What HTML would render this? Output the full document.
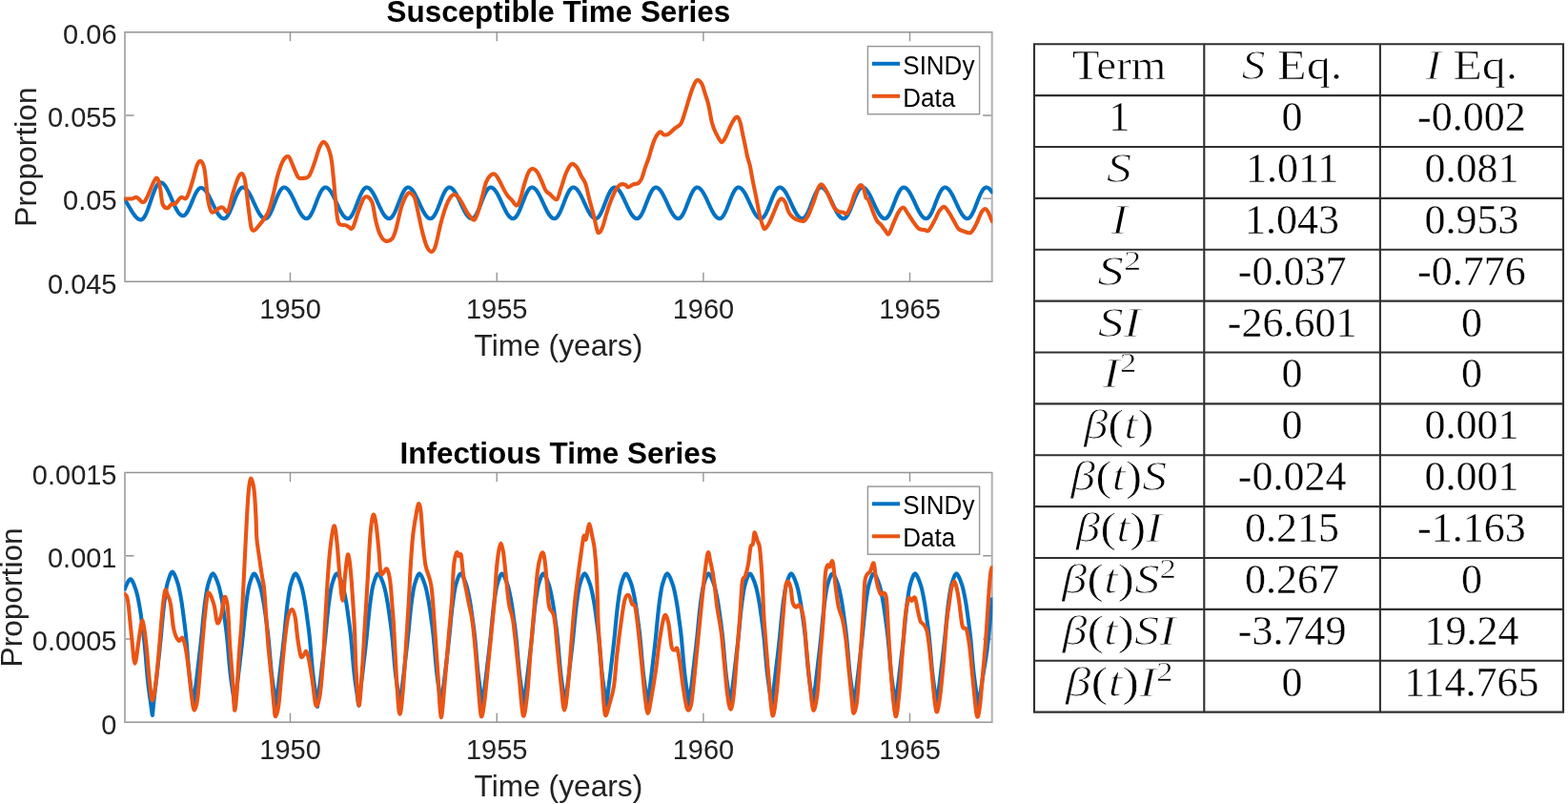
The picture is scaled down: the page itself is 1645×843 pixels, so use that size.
<!DOCTYPE html>
<html><head><meta charset="utf-8"><title>SINDy SIR fit</title>
<style>
html,body{margin:0;padding:0;background:#fff;}
body{width:1645px;height:843px;overflow:hidden;position:relative;}
svg.fig{position:absolute;left:0;top:0;}
table.coef{position:absolute;left:1085.00px;top:46.30px;border-collapse:collapse;border-spacing:0;
  font-family:"Liberation Serif","Times New Roman",serif;font-size:44px;color:#000;table-layout:fixed;width:555.00px;}
table.coef td{border:0;padding:0;text-align:center;vertical-align:top;height:53.870px;line-height:44px;white-space:nowrap;overflow:visible;}
table.coef td span.c{display:block;position:relative;top:1.0px;}
table.coef td span.c{-webkit-text-stroke:0.35px #fff;}
table.coef td span.m{-webkit-text-stroke:0.7px #fff;}
table.coef i{-webkit-text-stroke:1.05px #fff;}
table.coef sup{font-size:29px;line-height:0;vertical-align:0;position:relative;top:-16px;}
table.coef i{font-style:italic;}
table.coef span.m{display:inline-block;}
</style></head>
<body>
<svg class="fig" width="1645" height="843" viewBox="0 0 1645 843">
<rect width="1645" height="843" fill="#fff"/>
<clipPath id="c33"><rect x="130.4" y="33.8" width="910.9" height="261.5"/></clipPath>
<path d="M304.5,295.3V285.8 M304.5,33.8V43.3 M521.2,295.3V285.8 M521.2,33.8V43.3 M737.9,295.3V285.8 M737.9,33.8V43.3 M954.5,295.3V285.8 M954.5,33.8V43.3 M131.0,208.1H140.5 M1040.7,208.1H1031.2 M131.0,121.0H140.5 M1040.7,121.0H1031.2" stroke="#959595" stroke-width="1.4" fill="none"/>
<path d="M130.2,33.8H1041.5" stroke="#959595" stroke-width="1.5"/>
<path d="M130.2,295.3H1041.5" stroke="#959595" stroke-width="1.5"/>
<path d="M131.0,33.8V295.3" stroke="#b0b0b0" stroke-width="2"/>
<path d="M1040.7,33.8V295.3" stroke="#b0b0b0" stroke-width="2"/>
<g clip-path="url(#c33)" fill="none" stroke-width="4.1" stroke-linejoin="round" stroke-linecap="round">
<path d="M131.0,209.7 131.5,210.4 132.0,211.1 132.5,211.9 133.0,212.7 133.5,213.5 134.0,214.3 134.5,215.1 135.0,215.9 135.5,216.8 136.0,217.6 136.5,218.5 137.0,219.3 137.5,220.2 138.0,221.0 138.5,221.8 139.0,222.6 139.5,223.4 140.0,224.1 140.5,224.8 141.0,225.5 141.5,226.2 142.0,226.8 142.5,227.3 143.0,227.9 143.5,228.4 144.0,228.8 144.5,229.2 145.0,229.5 145.5,229.8 146.0,230.0 146.5,230.2 147.0,230.3 147.5,230.4 148.0,230.4 148.5,230.3 149.0,230.1 149.5,229.7 150.0,229.3 150.5,228.8 151.0,228.1 151.5,227.4 152.0,226.5 152.5,225.6 153.0,224.6 153.5,223.5 154.0,222.3 154.5,221.1 155.0,219.8 155.5,218.4 156.0,217.0 156.5,215.6 157.0,214.1 157.5,212.6 158.0,211.1 158.5,209.7 159.0,208.2 159.5,206.7 160.0,205.3 160.5,203.9 161.0,202.5 161.5,201.2 162.0,199.9 162.5,198.7 163.0,197.6 163.5,196.5 164.0,195.5 164.5,194.7 165.0,193.9 165.5,193.2 166.0,192.6 166.5,192.1 167.0,191.7 167.5,191.5 168.0,191.3 168.5,191.3 169.0,191.4 169.5,191.5 170.0,191.7 170.5,192.0 171.0,192.3 171.5,192.8 172.0,193.3 172.5,193.9 173.0,194.5 173.5,195.2 174.0,196.0 174.5,196.8 175.0,197.7 175.5,198.6 176.0,199.6 176.5,200.6 177.0,201.6 177.5,202.7 178.0,203.8 178.5,204.9 179.0,206.1 179.5,207.2 180.0,208.4 180.5,209.6 181.0,210.7 181.5,211.9 182.0,213.0 182.5,214.1 183.0,215.2 183.5,216.3 184.0,217.3 184.5,218.3 185.0,219.3 185.5,220.2 186.0,221.0 186.5,221.8 187.0,222.6 187.5,223.3 188.0,223.9 188.5,224.4 189.0,224.9 189.5,225.3 190.0,225.6 190.5,225.9 191.0,226.1 191.5,226.2 192.0,226.2 192.5,226.1 193.0,226.0 193.5,225.7 194.0,225.3 194.5,224.9 195.0,224.3 195.5,223.7 196.0,223.0 196.5,222.2 197.0,221.3 197.5,220.4 198.0,219.4 198.5,218.3 199.0,217.2 199.5,216.1 200.0,214.9 200.5,213.8 201.0,212.6 201.5,211.4 202.0,210.2 202.5,209.0 203.0,207.8 203.5,206.6 204.0,205.5 204.5,204.4 205.0,203.4 205.5,202.4 206.0,201.5 206.5,200.7 207.0,199.9 207.5,199.2 208.0,198.6 208.5,198.1 209.0,197.7 209.5,197.4 210.0,197.2 210.5,197.0 211.0,197.0 211.5,197.0 212.0,197.2 212.5,197.4 213.0,197.6 213.5,197.9 214.0,198.3 214.5,198.7 215.0,199.3 215.5,199.8 216.0,200.4 216.5,201.1 217.0,201.8 217.5,202.6 218.0,203.4 218.5,204.3 219.0,205.2 219.5,206.1 220.0,207.1 220.5,208.1 221.0,209.1 221.5,210.1 222.0,211.2 222.5,212.2 223.0,213.3 223.5,214.3 224.0,215.3 224.5,216.4 225.0,217.4 225.5,218.4 226.0,219.4 226.5,220.3 227.0,221.3 227.5,222.2 228.0,223.0 228.5,223.8 229.0,224.6 229.5,225.3 230.0,225.9 230.5,226.5 231.0,227.1 231.5,227.6 232.0,228.0 232.5,228.4 233.0,228.7 233.5,228.9 234.0,229.1 234.5,229.2 235.0,229.2 235.5,229.1 236.0,229.0 236.5,228.7 237.0,228.3 237.5,227.9 238.0,227.3 238.5,226.7 239.0,225.9 239.5,225.1 240.0,224.2 240.5,223.3 241.0,222.2 241.5,221.1 242.0,220.0 242.5,218.8 243.0,217.6 243.5,216.3 244.0,215.0 244.5,213.7 245.0,212.4 245.5,211.1 246.0,209.8 246.5,208.6 247.0,207.3 247.5,206.1 248.0,205.0 248.5,203.9 249.0,202.8 249.5,201.8 250.0,200.9 250.5,200.0 251.0,199.3 251.5,198.6 252.0,198.0 252.5,197.5 253.0,197.1 253.5,196.8 254.0,196.6 254.5,196.5 255.0,196.5 255.5,196.6 256.0,196.7 256.5,197.0 257.0,197.3 257.5,197.6 258.0,198.0 258.5,198.5 259.0,199.1 259.5,199.7 260.0,200.4 260.5,201.1 261.0,201.9 261.5,202.7 262.0,203.6 262.5,204.5 263.0,205.5 263.5,206.5 264.0,207.5 264.5,208.5 265.0,209.6 265.5,210.7 266.0,211.8 266.5,212.8 267.0,213.9 267.5,215.0 268.0,216.1 268.5,217.1 269.0,218.2 269.5,219.2 270.0,220.2 270.5,221.2 271.0,222.1 271.5,223.0 272.0,223.8 272.5,224.6 273.0,225.3 273.5,226.0 274.0,226.6 274.5,227.2 275.0,227.7 275.5,228.1 276.0,228.4 276.5,228.7 277.0,229.0 277.5,229.1 278.0,229.2 278.5,229.2 279.0,229.1 279.5,228.9 280.0,228.6 280.5,228.2 281.0,227.7 281.5,227.1 282.0,226.4 282.5,225.7 283.0,224.8 283.5,223.9 284.0,222.9 284.5,221.9 285.0,220.7 285.5,219.6 286.0,218.4 286.5,217.1 287.0,215.9 287.5,214.6 288.0,213.3 288.5,212.0 289.0,210.7 289.5,209.4 290.0,208.2 290.5,206.9 291.0,205.7 291.5,204.6 292.0,203.5 292.5,202.5 293.0,201.5 293.5,200.6 294.0,199.8 294.5,199.0 295.0,198.4 295.5,197.8 296.0,197.4 296.5,197.0 297.0,196.7 297.5,196.6 298.0,196.5 298.5,196.5 299.0,196.6 299.5,196.8 300.0,197.0 300.5,197.4 301.0,197.7 301.5,198.2 302.0,198.7 302.5,199.3 303.0,199.9 303.5,200.6 304.0,201.4 304.5,202.2 305.0,203.0 305.5,203.9 306.0,204.8 306.5,205.8 307.0,206.8 307.5,207.8 308.0,208.9 308.5,210.0 309.0,211.0 309.5,212.1 310.0,213.2 310.5,214.3 311.0,215.4 311.5,216.4 312.0,217.5 312.5,218.5 313.0,219.5 313.5,220.5 314.0,221.5 314.5,222.4 315.0,223.2 315.5,224.1 316.0,224.8 316.5,225.5 317.0,226.2 317.5,226.8 318.0,227.3 318.5,227.8 319.0,228.2 319.5,228.5 320.0,228.8 320.5,229.0 321.0,229.1 321.5,229.2 322.0,229.2 322.5,229.0 323.0,228.8 323.5,228.5 324.0,228.0 324.5,227.5 325.0,226.9 325.5,226.2 326.0,225.4 326.5,224.5 327.0,223.6 327.5,222.6 328.0,221.5 328.5,220.4 329.0,219.2 329.5,218.0 330.0,216.7 330.5,215.4 331.0,214.2 331.5,212.9 332.0,211.6 332.5,210.3 333.0,209.0 333.5,207.7 334.0,206.5 334.5,205.4 335.0,204.2 335.5,203.1 336.0,202.1 336.5,201.2 337.0,200.3 337.5,199.5 338.0,198.8 338.5,198.2 339.0,197.7 339.5,197.2 340.0,196.9 340.5,196.7 341.0,196.5 341.5,196.5 342.0,196.6 342.5,196.7 343.0,196.9 343.5,197.1 344.0,197.5 344.5,197.9 345.0,198.4 345.5,198.9 346.0,199.5 346.5,200.2 347.0,200.9 347.5,201.6 348.0,202.5 348.5,203.3 349.0,204.2 349.5,205.2 350.0,206.1 350.5,207.2 351.0,208.2 351.5,209.2 352.0,210.3 352.5,211.4 353.0,212.5 353.5,213.6 354.0,214.7 354.5,215.7 355.0,216.8 355.5,217.8 356.0,218.9 356.5,219.9 357.0,220.8 357.5,221.8 358.0,222.7 358.5,223.5 359.0,224.3 359.5,225.1 360.0,225.8 360.5,226.4 361.0,227.0 361.5,227.5 362.0,227.9 362.5,228.3 363.0,228.6 363.5,228.9 364.0,229.1 364.5,229.2 365.0,229.2 365.5,229.1 366.0,229.0 366.5,228.7 367.0,228.3 367.5,227.9 368.0,227.3 368.5,226.7 369.0,225.9 369.5,225.1 370.0,224.2 370.5,223.2 371.0,222.2 371.5,221.1 372.0,220.0 372.5,218.8 373.0,217.6 373.5,216.3 374.0,215.0 374.5,213.7 375.0,212.4 375.5,211.1 376.0,209.8 376.5,208.6 377.0,207.3 377.5,206.1 378.0,205.0 378.5,203.9 379.0,202.8 379.5,201.8 380.0,200.9 380.5,200.0 381.0,199.3 381.5,198.6 382.0,198.0 382.5,197.5 383.0,197.1 383.5,196.8 384.0,196.6 384.5,196.5 385.0,196.5 385.5,196.6 386.0,196.7 386.5,197.0 387.0,197.3 387.5,197.6 388.0,198.0 388.5,198.5 389.0,199.1 389.5,199.7 390.0,200.4 390.5,201.1 391.0,201.9 391.5,202.7 392.0,203.6 392.5,204.5 393.0,205.5 393.5,206.5 394.0,207.5 394.5,208.5 395.0,209.6 395.5,210.7 396.0,211.8 396.5,212.8 397.0,213.9 397.5,215.0 398.0,216.1 398.5,217.2 399.0,218.2 399.5,219.2 400.0,220.2 400.5,221.2 401.0,222.1 401.5,223.0 402.0,223.8 402.5,224.6 403.0,225.3 403.5,226.0 404.0,226.6 404.5,227.2 405.0,227.7 405.5,228.1 406.0,228.4 406.5,228.7 407.0,229.0 407.5,229.1 408.0,229.2 408.5,229.2 409.0,229.1 409.5,228.9 410.0,228.6 410.5,228.2 411.0,227.7 411.5,227.1 412.0,226.4 412.5,225.7 413.0,224.8 413.5,223.9 414.0,222.9 414.5,221.9 415.0,220.7 415.5,219.6 416.0,218.4 416.5,217.1 417.0,215.9 417.5,214.6 418.0,213.3 418.5,212.0 419.0,210.7 419.5,209.4 420.0,208.2 420.5,206.9 421.0,205.7 421.5,204.6 422.0,203.5 422.5,202.5 423.0,201.5 423.5,200.6 424.0,199.8 424.5,199.0 425.0,198.4 425.5,197.8 426.0,197.4 426.5,197.0 427.0,196.7 427.5,196.6 428.0,196.5 428.5,196.5 429.0,196.6 429.5,196.8 430.0,197.0 430.5,197.4 431.0,197.7 431.5,198.2 432.0,198.7 432.5,199.3 433.0,199.9 433.5,200.6 434.0,201.4 434.5,202.2 435.0,203.0 435.5,203.9 436.0,204.9 436.5,205.8 437.0,206.8 437.5,207.8 438.0,208.9 438.5,210.0 439.0,211.0 439.5,212.1 440.0,213.2 440.5,214.3 441.0,215.4 441.5,216.4 442.0,217.5 442.5,218.5 443.0,219.5 443.5,220.5 444.0,221.5 444.5,222.4 445.0,223.2 445.5,224.1 446.0,224.8 446.5,225.5 447.0,226.2 447.5,226.8 448.0,227.3 448.5,227.8 449.0,228.2 449.5,228.6 450.0,228.8 450.5,229.0 451.0,229.1 451.5,229.2 452.0,229.2 452.5,229.0 453.0,228.8 453.5,228.5 454.0,228.0 454.5,227.5 455.0,226.9 455.5,226.2 456.0,225.4 456.5,224.5 457.0,223.6 457.5,222.6 458.0,221.5 458.5,220.4 459.0,219.2 459.5,218.0 460.0,216.7 460.5,215.4 461.0,214.2 461.5,212.9 462.0,211.6 462.5,210.3 463.0,209.0 463.5,207.7 464.0,206.5 464.5,205.3 465.0,204.2 465.5,203.1 466.0,202.1 466.5,201.2 467.0,200.3 467.5,199.5 468.0,198.8 468.5,198.2 469.0,197.7 469.5,197.2 470.0,196.9 470.5,196.7 471.0,196.5 471.5,196.5 472.0,196.6 472.5,196.7 473.0,196.9 473.5,197.1 474.0,197.5 474.5,197.9 475.0,198.4 475.5,198.9 476.0,199.5 476.5,200.2 477.0,200.9 477.5,201.6 478.0,202.5 478.5,203.3 479.0,204.2 479.5,205.2 480.0,206.1 480.5,207.2 481.0,208.2 481.5,209.2 482.0,210.3 482.5,211.4 483.0,212.5 483.5,213.6 484.0,214.7 484.5,215.7 485.0,216.8 485.5,217.8 486.0,218.9 486.5,219.9 487.0,220.8 487.5,221.8 488.0,222.7 488.5,223.5 489.0,224.3 489.5,225.1 490.0,225.8 490.5,226.4 491.0,227.0 491.5,227.5 492.0,227.9 492.5,228.3 493.0,228.6 493.5,228.9 494.0,229.1 494.5,229.2 495.0,229.2 495.5,229.1 496.0,229.0 496.5,228.7 497.0,228.3 497.5,227.9 498.0,227.3 498.5,226.7 499.0,225.9 499.5,225.1 500.0,224.2 500.5,223.2 501.0,222.2 501.5,221.1 502.0,220.0 502.5,218.8 503.0,217.6 503.5,216.3 504.0,215.0 504.5,213.7 505.0,212.4 505.5,211.1 506.0,209.8 506.5,208.6 507.0,207.3 507.5,206.1 508.0,205.0 508.5,203.9 509.0,202.8 509.5,201.8 510.0,200.9 510.5,200.0 511.0,199.3 511.5,198.6 512.0,198.0 512.5,197.5 513.0,197.1 513.5,196.8 514.0,196.6 514.5,196.5 515.0,196.5 515.5,196.6 516.0,196.7 516.5,197.0 517.0,197.3 517.5,197.6 518.0,198.0 518.5,198.5 519.0,199.1 519.5,199.7 520.0,200.4 520.5,201.1 521.0,201.9 521.5,202.7 522.0,203.6 522.5,204.5 523.0,205.5 523.5,206.5 524.0,207.5 524.5,208.5 525.0,209.6 525.5,210.7 526.0,211.8 526.5,212.8 527.0,213.9 527.5,215.0 528.0,216.1 528.5,217.2 529.0,218.2 529.5,219.2 530.0,220.2 530.5,221.2 531.0,222.1 531.5,223.0 532.0,223.8 532.5,224.6 533.0,225.3 533.5,226.0 534.0,226.6 534.5,227.2 535.0,227.7 535.5,228.1 536.0,228.4 536.5,228.7 537.0,229.0 537.5,229.1 538.0,229.2 538.5,229.2 539.0,229.1 539.5,228.9 540.0,228.6 540.5,228.2 541.0,227.7 541.5,227.1 542.0,226.4 542.5,225.7 543.0,224.8 543.5,223.9 544.0,222.9 544.5,221.9 545.0,220.7 545.5,219.6 546.0,218.4 546.5,217.1 547.0,215.9 547.5,214.6 548.0,213.3 548.5,212.0 549.0,210.7 549.5,209.4 550.0,208.2 550.5,206.9 551.0,205.7 551.5,204.6 552.0,203.5 552.5,202.5 553.0,201.5 553.5,200.6 554.0,199.8 554.5,199.0 555.0,198.4 555.5,197.8 556.0,197.4 556.5,197.0 557.0,196.7 557.5,196.6 558.0,196.5 558.5,196.5 559.0,196.6 559.5,196.8 560.0,197.1 560.5,197.4 561.0,197.7 561.5,198.2 562.0,198.7 562.5,199.3 563.0,199.9 563.5,200.6 564.0,201.4 564.5,202.2 565.0,203.0 565.5,203.9 566.0,204.9 566.5,205.8 567.0,206.8 567.5,207.8 568.0,208.9 568.5,210.0 569.0,211.0 569.5,212.1 570.0,213.2 570.5,214.3 571.0,215.4 571.5,216.4 572.0,217.5 572.5,218.5 573.0,219.5 573.5,220.5 574.0,221.5 574.5,222.4 575.0,223.2 575.5,224.1 576.0,224.8 576.5,225.5 577.0,226.2 577.5,226.8 578.0,227.3 578.5,227.8 579.0,228.2 579.5,228.6 580.0,228.8 580.5,229.0 581.0,229.1 581.5,229.2 582.0,229.2 582.5,229.0 583.0,228.8 583.5,228.5 584.0,228.0 584.5,227.5 585.0,226.9 585.5,226.2 586.0,225.4 586.5,224.5 587.0,223.6 587.5,222.6 588.0,221.5 588.5,220.4 589.0,219.2 589.5,218.0 590.0,216.7 590.5,215.4 591.0,214.2 591.5,212.9 592.0,211.6 592.5,210.3 593.0,209.0 593.5,207.7 594.0,206.5 594.5,205.3 595.0,204.2 595.5,203.1 596.0,202.1 596.5,201.2 597.0,200.3 597.5,199.5 598.0,198.8 598.5,198.2 599.0,197.7 599.5,197.2 600.0,196.9 600.5,196.7 601.0,196.5 601.5,196.5 602.0,196.6 602.5,196.7 603.0,196.9 603.5,197.1 604.0,197.5 604.5,197.9 605.0,198.4 605.5,198.9 606.0,199.5 606.5,200.2 607.0,200.9 607.5,201.6 608.0,202.5 608.5,203.3 609.0,204.2 609.5,205.2 610.0,206.2 610.5,207.2 611.0,208.2 611.5,209.2 612.0,210.3 612.5,211.4 613.0,212.5 613.5,213.6 614.0,214.7 614.5,215.7 615.0,216.8 615.5,217.9 616.0,218.9 616.5,219.9 617.0,220.8 617.5,221.8 618.0,222.7 618.5,223.5 619.0,224.3 619.5,225.1 620.0,225.8 620.5,226.4 621.0,227.0 621.5,227.5 622.0,227.9 622.5,228.3 623.0,228.6 623.5,228.9 624.0,229.1 624.5,229.2 625.0,229.2 625.5,229.1 626.0,229.0 626.5,228.7 627.0,228.3 627.5,227.9 628.0,227.3 628.5,226.7 629.0,225.9 629.5,225.1 630.0,224.2 630.5,223.2 631.0,222.2 631.5,221.1 632.0,220.0 632.5,218.8 633.0,217.6 633.5,216.3 634.0,215.0 634.5,213.7 635.0,212.4 635.5,211.1 636.0,209.8 636.5,208.6 637.0,207.3 637.5,206.1 638.0,205.0 638.5,203.9 639.0,202.8 639.5,201.8 640.0,200.9 640.5,200.0 641.0,199.3 641.5,198.6 642.0,198.0 642.5,197.5 643.0,197.1 643.5,196.8 644.0,196.6 644.5,196.5 645.0,196.5 645.5,196.6 646.0,196.7 646.5,197.0 647.0,197.3 647.5,197.6 648.0,198.0 648.5,198.5 649.0,199.1 649.5,199.7 650.0,200.4 650.5,201.1 651.0,201.9 651.5,202.7 652.0,203.6 652.5,204.5 653.0,205.5 653.5,206.5 654.0,207.5 654.5,208.5 655.0,209.6 655.5,210.7 656.0,211.8 656.5,212.8 657.0,213.9 657.5,215.0 658.0,216.1 658.5,217.2 659.0,218.2 659.5,219.2 660.0,220.2 660.5,221.2 661.0,222.1 661.5,223.0 662.0,223.8 662.5,224.6 663.0,225.3 663.5,226.0 664.0,226.6 664.5,227.2 665.0,227.7 665.5,228.1 666.0,228.4 666.5,228.7 667.0,229.0 667.5,229.1 668.0,229.2 668.5,229.2 669.0,229.1 669.5,228.9 670.0,228.6 670.5,228.2 671.0,227.7 671.5,227.1 672.0,226.4 672.5,225.7 673.0,224.8 673.5,223.9 674.0,222.9 674.5,221.9 675.0,220.7 675.5,219.6 676.0,218.4 676.5,217.1 677.0,215.9 677.5,214.6 678.0,213.3 678.5,212.0 679.0,210.7 679.5,209.4 680.0,208.2 680.5,206.9 681.0,205.7 681.5,204.6 682.0,203.5 682.5,202.5 683.0,201.5 683.5,200.6 684.0,199.8 684.5,199.0 685.0,198.4 685.5,197.8 686.0,197.4 686.5,197.0 687.0,196.7 687.5,196.6 688.0,196.5 688.5,196.5 689.0,196.6 689.5,196.8 690.0,197.1 690.5,197.4 691.0,197.7 691.5,198.2 692.0,198.7 692.5,199.3 693.0,199.9 693.5,200.6 694.0,201.4 694.5,202.2 695.0,203.0 695.5,203.9 696.0,204.9 696.5,205.8 697.0,206.8 697.5,207.8 698.0,208.9 698.5,210.0 699.0,211.0 699.5,212.1 700.0,213.2 700.5,214.3 701.0,215.4 701.5,216.5 702.0,217.5 702.5,218.5 703.0,219.5 703.5,220.5 704.0,221.5 704.5,222.4 705.0,223.2 705.5,224.1 706.0,224.8 706.5,225.5 707.0,226.2 707.5,226.8 708.0,227.3 708.5,227.8 709.0,228.2 709.5,228.6 710.0,228.8 710.5,229.0 711.0,229.1 711.5,229.2 712.0,229.2 712.5,229.0 713.0,228.8 713.5,228.5 714.0,228.0 714.5,227.5 715.0,226.9 715.5,226.2 716.0,225.4 716.5,224.5 717.0,223.6 717.5,222.6 718.0,221.5 718.5,220.4 719.0,219.2 719.5,218.0 720.0,216.7 720.5,215.4 721.0,214.1 721.5,212.8 722.0,211.6 722.5,210.3 723.0,209.0 723.5,207.7 724.0,206.5 724.5,205.3 725.0,204.2 725.5,203.1 726.0,202.1 726.5,201.2 727.0,200.3 727.5,199.5 728.0,198.8 728.5,198.2 729.0,197.7 729.5,197.2 730.0,196.9 730.5,196.7 731.0,196.5 731.5,196.5 732.0,196.6 732.5,196.7 733.0,196.9 733.5,197.1 734.0,197.5 734.5,197.9 735.0,198.4 735.5,198.9 736.0,199.5 736.5,200.2 737.0,200.9 737.5,201.6 738.0,202.5 738.5,203.3 739.0,204.2 739.5,205.2 740.0,206.2 740.5,207.2 741.0,208.2 741.5,209.2 742.0,210.3 742.5,211.4 743.0,212.5 743.5,213.6 744.0,214.7 744.5,215.7 745.0,216.8 745.5,217.9 746.0,218.9 746.5,219.9 747.0,220.8 747.5,221.8 748.0,222.7 748.5,223.5 749.0,224.3 749.5,225.1 750.0,225.8 750.5,226.4 751.0,227.0 751.5,227.5 752.0,228.0 752.5,228.3 753.0,228.6 753.5,228.9 754.0,229.1 754.5,229.2 755.0,229.2 755.5,229.1 756.0,229.0 756.5,228.7 757.0,228.3 757.5,227.9 758.0,227.3 758.5,226.7 759.0,225.9 759.5,225.1 760.0,224.2 760.5,223.2 761.0,222.2 761.5,221.1 762.0,220.0 762.5,218.8 763.0,217.5 763.5,216.3 764.0,215.0 764.5,213.7 765.0,212.4 765.5,211.1 766.0,209.8 766.5,208.6 767.0,207.3 767.5,206.1 768.0,205.0 768.5,203.8 769.0,202.8 769.5,201.8 770.0,200.9 770.5,200.0 771.0,199.3 771.5,198.6 772.0,198.0 772.5,197.5 773.0,197.1 773.5,196.8 774.0,196.6 774.5,196.5 775.0,196.5 775.5,196.6 776.0,196.7 776.5,197.0 777.0,197.3 777.5,197.6 778.0,198.0 778.5,198.5 779.0,199.1 779.5,199.7 780.0,200.4 780.5,201.1 781.0,201.9 781.5,202.7 782.0,203.6 782.5,204.5 783.0,205.5 783.5,206.5 784.0,207.5 784.5,208.5 785.0,209.6 785.5,210.7 786.0,211.8 786.5,212.9 787.0,213.9 787.5,215.0 788.0,216.1 788.5,217.2 789.0,218.2 789.5,219.2 790.0,220.2 790.5,221.2 791.0,222.1 791.5,223.0 792.0,223.8 792.5,224.6 793.0,225.3 793.5,226.0 794.0,226.6 794.5,227.2 795.0,227.7 795.5,228.1 796.0,228.4 796.5,228.7 797.0,229.0 797.5,229.1 798.0,229.2 798.5,229.2 799.0,229.1 799.5,228.9 800.0,228.6 800.5,228.2 801.0,227.7 801.5,227.1 802.0,226.4 802.5,225.7 803.0,224.8 803.5,223.9 804.0,222.9 804.5,221.8 805.0,220.7 805.5,219.6 806.0,218.4 806.5,217.1 807.0,215.9 807.5,214.6 808.0,213.3 808.5,212.0 809.0,210.7 809.5,209.4 810.0,208.1 810.5,206.9 811.0,205.7 811.5,204.6 812.0,203.5 812.5,202.5 813.0,201.5 813.5,200.6 814.0,199.8 814.5,199.0 815.0,198.4 815.5,197.8 816.0,197.4 816.5,197.0 817.0,196.7 817.5,196.6 818.0,196.5 818.5,196.5 819.0,196.6 819.5,196.8 820.0,197.1 820.5,197.4 821.0,197.8 821.5,198.2 822.0,198.7 822.5,199.3 823.0,199.9 823.5,200.6 824.0,201.4 824.5,202.2 825.0,203.0 825.5,203.9 826.0,204.9 826.5,205.8 827.0,206.8 827.5,207.8 828.0,208.9 828.5,210.0 829.0,211.0 829.5,212.1 830.0,213.2 830.5,214.3 831.0,215.4 831.5,216.5 832.0,217.5 832.5,218.5 833.0,219.5 833.5,220.5 834.0,221.5 834.5,222.4 835.0,223.2 835.5,224.1 836.0,224.8 836.5,225.5 837.0,226.2 837.5,226.8 838.0,227.3 838.5,227.8 839.0,228.2 839.5,228.6 840.0,228.8 840.5,229.0 841.0,229.1 841.5,229.2 842.0,229.2 842.5,229.0 843.0,228.8 843.5,228.5 844.0,228.0 844.5,227.5 845.0,226.9 845.5,226.2 846.0,225.4 846.5,224.5 847.0,223.6 847.5,222.6 848.0,221.5 848.5,220.4 849.0,219.2 849.5,218.0 850.0,216.7 850.5,215.4 851.0,214.1 851.5,212.8 852.0,211.5 852.5,210.3 853.0,209.0 853.5,207.7 854.0,206.5 854.5,205.3 855.0,204.2 855.5,203.1 856.0,202.1 856.5,201.2 857.0,200.3 857.5,199.5 858.0,198.8 858.5,198.2 859.0,197.7 859.5,197.2 860.0,196.9 860.5,196.7 861.0,196.5 861.5,196.5 862.0,196.6 862.5,196.7 863.0,196.9 863.5,197.1 864.0,197.5 864.5,197.9 865.0,198.4 865.5,198.9 866.0,199.5 866.5,200.2 867.0,200.9 867.5,201.6 868.0,202.5 868.5,203.3 869.0,204.2 869.5,205.2 870.0,206.2 870.5,207.2 871.0,208.2 871.5,209.3 872.0,210.3 872.5,211.4 873.0,212.5 873.5,213.6 874.0,214.7 874.5,215.7 875.0,216.8 875.5,217.9 876.0,218.9 876.5,219.9 877.0,220.8 877.5,221.8 878.0,222.7 878.5,223.5 879.0,224.3 879.5,225.1 880.0,225.8 880.5,226.4 881.0,227.0 881.5,227.5 882.0,228.0 882.5,228.3 883.0,228.6 883.5,228.9 884.0,229.1 884.5,229.2 885.0,229.2 885.5,229.1 886.0,229.0 886.5,228.7 887.0,228.3 887.5,227.9 888.0,227.3 888.5,226.7 889.0,225.9 889.5,225.1 890.0,224.2 890.5,223.2 891.0,222.2 891.5,221.1 892.0,220.0 892.5,218.8 893.0,217.5 893.5,216.3 894.0,215.0 894.5,213.7 895.0,212.4 895.5,211.1 896.0,209.8 896.5,208.6 897.0,207.3 897.5,206.1 898.0,205.0 898.5,203.8 899.0,202.8 899.5,201.8 900.0,200.9 900.5,200.0 901.0,199.3 901.5,198.6 902.0,198.0 902.5,197.5 903.0,197.1 903.5,196.8 904.0,196.6 904.5,196.5 905.0,196.5 905.5,196.6 906.0,196.7 906.5,197.0 907.0,197.3 907.5,197.6 908.0,198.0 908.5,198.5 909.0,199.1 909.5,199.7 910.0,200.4 910.5,201.1 911.0,201.9 911.5,202.7 912.0,203.6 912.5,204.5 913.0,205.5 913.5,206.5 914.0,207.5 914.5,208.5 915.0,209.6 915.5,210.7 916.0,211.8 916.5,212.9 917.0,213.9 917.5,215.0 918.0,216.1 918.5,217.2 919.0,218.2 919.5,219.2 920.0,220.2 920.5,221.2 921.0,222.1 921.5,223.0 922.0,223.8 922.5,224.6 923.0,225.3 923.5,226.0 924.0,226.6 924.5,227.2 925.0,227.7 925.5,228.1 926.0,228.4 926.5,228.7 927.0,229.0 927.5,229.1 928.0,229.2 928.5,229.2 929.0,229.1 929.5,228.9 930.0,228.6 930.5,228.2 931.0,227.7 931.5,227.1 932.0,226.4 932.5,225.7 933.0,224.8 933.5,223.9 934.0,222.9 934.5,221.8 935.0,220.7 935.5,219.6 936.0,218.4 936.5,217.1 937.0,215.9 937.5,214.6 938.0,213.3 938.5,212.0 939.0,210.7 939.5,209.4 940.0,208.1 940.5,206.9 941.0,205.7 941.5,204.6 942.0,203.5 942.5,202.5 943.0,201.5 943.5,200.6 944.0,199.8 944.5,199.0 945.0,198.4 945.5,197.8 946.0,197.4 946.5,197.0 947.0,196.7 947.5,196.6 948.0,196.5 948.5,196.5 949.0,196.6 949.5,196.8 950.0,197.1 950.5,197.4 951.0,197.8 951.5,198.2 952.0,198.7 952.5,199.3 953.0,199.9 953.5,200.6 954.0,201.4 954.5,202.2 955.0,203.0 955.5,203.9 956.0,204.9 956.5,205.8 957.0,206.8 957.5,207.9 958.0,208.9 958.5,210.0 959.0,211.0 959.5,212.1 960.0,213.2 960.5,214.3 961.0,215.4 961.5,216.5 962.0,217.5 962.5,218.5 963.0,219.6 963.5,220.5 964.0,221.5 964.5,222.4 965.0,223.2 965.5,224.1 966.0,224.8 966.5,225.5 967.0,226.2 967.5,226.8 968.0,227.3 968.5,227.8 969.0,228.2 969.5,228.6 970.0,228.8 970.5,229.0 971.0,229.1 971.5,229.2 972.0,229.2 972.5,229.0 973.0,228.8 973.5,228.5 974.0,228.0 974.5,227.5 975.0,226.9 975.5,226.2 976.0,225.4 976.5,224.5 977.0,223.6 977.5,222.6 978.0,221.5 978.5,220.4 979.0,219.2 979.5,218.0 980.0,216.7 980.5,215.4 981.0,214.1 981.5,212.8 982.0,211.5 982.5,210.3 983.0,209.0 983.5,207.7 984.0,206.5 984.5,205.3 985.0,204.2 985.5,203.1 986.0,202.1 986.5,201.2 987.0,200.3 987.5,199.5 988.0,198.8 988.5,198.2 989.0,197.7 989.5,197.2 990.0,196.9 990.5,196.7 991.0,196.5 991.5,196.5 992.0,196.6 992.5,196.7 993.0,196.9 993.5,197.1 994.0,197.5 994.5,197.9 995.0,198.4 995.5,198.9 996.0,199.5 996.5,200.2 997.0,200.9 997.5,201.6 998.0,202.5 998.5,203.3 999.0,204.2 999.5,205.2 1000.0,206.2 1000.5,207.2 1001.0,208.2 1001.5,209.3 1002.0,210.3 1002.5,211.4 1003.0,212.5 1003.5,213.6 1004.0,214.7 1004.5,215.7 1005.0,216.8 1005.5,217.9 1006.0,218.9 1006.5,219.9 1007.0,220.8 1007.5,221.8 1008.0,222.7 1008.5,223.5 1009.0,224.3 1009.5,225.1 1010.0,225.8 1010.5,226.4 1011.0,227.0 1011.5,227.5 1012.0,228.0 1012.5,228.3 1013.0,228.7 1013.5,228.9 1014.0,229.1 1014.5,229.2 1015.0,229.2 1015.5,229.1 1016.0,229.0 1016.5,228.7 1017.0,228.3 1017.5,227.9 1018.0,227.3 1018.5,226.7 1019.0,225.9 1019.5,225.1 1020.0,224.2 1020.5,223.2 1021.0,222.2 1021.5,221.1 1022.0,220.0 1022.5,218.8 1023.0,217.5 1023.5,216.3 1024.0,215.0 1024.5,213.7 1025.0,212.4 1025.5,211.1 1026.0,209.8 1026.5,208.6 1027.0,207.3 1027.5,206.1 1028.0,205.0 1028.5,203.8 1029.0,202.8 1029.5,201.8 1030.0,200.9 1030.5,200.0 1031.0,199.3 1031.5,198.6 1032.0,198.0 1032.5,197.5 1033.0,197.1 1033.5,196.8 1034.0,196.6 1034.5,196.5 1035.0,196.5 1035.5,196.6 1036.0,196.7 1036.5,197.0 1037.0,197.3 1037.5,197.6 1038.0,198.0 1038.5,198.5 1039.0,199.1 1039.5,199.7 1040.0,200.4 1040.5,201.1 1040.7,201.4" stroke="#0072C3"/>
<path d="M131.0,208.4 C132.2,208.4 136.4,208.6 138.5,208.4 C140.6,208.2 141.6,206.4 143.5,207.0 C145.4,207.6 148.2,212.0 150.0,212.0 C151.8,212.0 151.9,211.2 154.2,207.0 C156.4,202.8 161.2,188.9 163.5,187.0 C165.8,185.1 166.5,191.0 167.7,195.5 C168.9,200.0 169.3,210.2 170.6,214.0 C171.9,217.8 174.0,218.3 175.5,218.3 C177.0,218.3 178.5,214.7 179.8,214.0 C181.1,213.3 181.7,215.2 183.4,214.0 C185.1,212.8 187.8,208.1 189.8,207.0 C191.8,205.9 193.6,210.0 195.5,207.6 C197.4,205.2 199.3,198.5 201.2,192.7 C203.1,186.9 205.2,176.7 206.9,172.8 C208.6,168.9 209.8,168.2 211.1,169.2 C212.4,170.1 213.5,171.7 214.7,178.5 C215.9,185.3 217.0,202.5 218.3,209.8 C219.6,217.2 220.6,221.2 222.5,222.6 C224.4,224.0 227.7,219.1 229.6,218.3 C231.5,217.5 232.3,217.0 233.9,217.6 C235.5,218.2 237.2,224.2 238.9,221.9 C240.6,219.6 242.1,209.8 243.9,204.0 C245.7,198.2 247.9,190.7 249.5,187.0 C251.1,183.3 252.3,181.5 253.6,182.0 C254.9,182.5 255.9,183.8 257.1,189.8 C258.3,195.9 259.6,210.2 260.7,218.3 C261.8,226.4 262.6,234.3 263.5,238.2 C264.4,242.1 265.1,241.9 266.4,241.7 C267.7,241.5 269.0,239.8 271.4,236.8 C273.8,233.9 278.2,228.8 280.6,224.0 C283.0,219.2 283.8,215.0 285.6,208.3 C287.4,201.7 289.4,190.8 291.3,184.1 C293.2,177.4 295.1,171.7 297.0,168.4 C298.9,165.1 301.1,163.5 302.7,164.2 C304.3,164.9 305.2,169.1 306.9,172.7 C308.5,176.2 310.9,183.1 312.6,185.5 C314.3,187.9 315.0,187.0 316.9,186.9 C318.8,186.8 321.9,187.4 324.0,184.8 C326.1,182.2 327.8,176.4 329.7,171.3 C331.6,166.2 333.6,157.9 335.4,154.2 C337.2,150.5 338.5,147.8 340.4,149.2 C342.3,150.6 345.3,156.9 346.8,162.7 C348.3,168.5 348.7,175.3 349.6,184.1 C350.6,192.9 351.6,207.1 352.5,215.4 C353.4,223.7 353.6,230.5 355.3,233.9 C357.0,237.3 360.8,235.5 362.5,236.1 C364.2,236.7 364.1,237.0 365.3,237.5 C366.6,238.0 368.3,241.4 370.0,238.9 C371.7,236.4 373.8,227.7 375.7,222.6 C377.6,217.5 379.7,211.1 381.4,208.4 C383.1,205.7 384.2,205.6 385.7,206.3 C387.2,207.0 389.2,208.5 390.6,212.7 C392.0,216.8 392.9,225.8 394.2,231.2 C395.5,236.6 396.8,241.8 398.5,245.4 C400.2,249.0 402.1,251.7 404.2,252.5 C406.3,253.3 409.4,252.5 411.3,250.4 C413.2,248.3 414.0,245.3 415.6,239.7 C417.2,234.1 419.3,222.8 421.2,216.9 C423.1,211.0 425.3,206.5 426.9,204.1 C428.4,201.7 429.2,201.9 430.5,202.4 C431.8,202.9 433.5,203.9 434.8,207.0 C436.1,210.1 437.0,215.5 438.3,221.2 C439.6,226.9 441.1,234.9 442.6,241.1 C444.2,247.3 445.9,254.4 447.6,258.2 C449.3,262.0 451.1,263.9 452.6,263.9 C454.1,263.9 455.2,263.2 456.8,258.2 C458.4,253.2 460.6,241.1 462.5,234.0 C464.4,226.9 466.5,220.0 468.2,215.5 C469.9,211.0 471.1,208.9 472.5,207.0 C473.9,205.1 475.1,203.8 476.8,204.1 C478.5,204.4 480.3,206.0 482.5,209.1 C484.7,212.2 488.0,219.4 490.0,222.6 C492.0,225.8 493.0,227.0 494.3,228.3 C495.6,229.6 496.6,231.4 497.8,230.4 C499.0,229.4 500.1,226.5 501.4,222.6 C502.7,218.7 504.3,212.1 505.7,206.9 C507.1,201.7 508.5,195.1 509.9,191.3 C511.3,187.5 512.7,185.6 514.2,184.2 C515.8,182.8 517.5,181.8 519.2,182.7 C520.9,183.6 522.7,187.3 524.2,189.9 C525.7,192.5 527.0,195.8 528.4,198.4 C529.8,201.0 531.3,203.6 532.7,205.5 C534.1,207.4 535.5,208.1 537.0,209.8 C538.5,211.5 540.6,215.5 542.0,215.5 C543.4,215.5 544.2,213.4 545.5,209.8 C546.8,206.2 548.4,198.8 549.8,194.1 C551.2,189.3 552.7,184.2 554.1,181.3 C555.5,178.5 556.8,177.2 558.3,177.0 C559.8,176.8 561.8,178.0 563.3,179.9 C564.8,181.8 566.0,185.1 567.6,188.4 C569.2,191.7 571.1,197.3 572.6,199.8 C574.1,202.3 574.9,201.9 576.8,203.4 C578.7,204.9 582.1,209.9 584.0,209.1 C585.9,208.3 586.6,203.0 588.2,198.4 C589.9,193.8 592.0,185.7 593.9,181.3 C595.8,176.9 597.7,173.1 599.6,172.1 C601.5,171.1 603.6,173.4 605.3,175.6 C607.0,177.8 608.5,182.2 610.0,185.0 C611.5,187.8 612.9,188.6 614.3,192.7 C615.7,196.8 617.1,204.4 618.5,209.8 C619.9,215.2 621.5,220.2 622.8,225.4 C624.1,230.6 625.4,238.0 626.4,241.1 C627.4,244.2 627.5,244.5 628.5,244.0 C629.5,243.5 630.8,241.6 632.1,238.3 C633.4,235.0 634.9,228.5 636.3,224.0 C637.7,219.5 639.0,215.2 640.6,211.2 C642.2,207.2 644.1,202.7 645.6,199.8 C647.1,197.0 648.2,195.2 649.9,194.1 C651.6,193.0 654.1,193.0 655.6,193.4 C657.1,193.8 657.7,196.3 659.1,196.3 C660.5,196.3 662.3,194.1 664.1,193.4 C665.9,192.7 668.3,193.1 669.8,192.0 C671.3,190.9 672.1,189.7 673.3,187.0 C674.5,184.3 675.7,179.1 676.9,175.6 C678.1,172.1 679.3,169.6 680.5,166.0 C681.7,162.4 682.8,157.7 684.0,154.0 C685.2,150.3 686.3,146.6 687.8,144.0 C689.3,141.4 691.4,138.8 692.8,138.3 C694.2,137.8 695.0,140.8 696.4,141.2 C697.8,141.6 699.4,141.7 701.4,140.5 C703.4,139.3 706.4,135.9 708.5,134.1 C710.6,132.3 712.6,132.4 714.2,129.8 C715.9,127.2 717.0,122.7 718.4,118.4 C719.8,114.1 721.3,108.7 722.7,104.2 C724.1,99.7 725.6,94.7 727.0,91.4 C728.4,88.1 729.7,84.8 731.2,84.2 C732.7,83.6 734.8,85.4 736.2,87.8 C737.6,90.2 738.6,94.8 739.8,98.5 C741.0,102.2 742.1,104.9 743.3,109.9 C744.5,114.9 745.6,123.4 746.9,128.4 C748.2,133.4 749.5,136.4 751.2,139.8 C752.9,143.2 755.2,148.3 756.9,149.0 C758.5,149.7 759.5,147.0 761.1,144.0 C762.8,141.0 764.9,134.8 766.8,131.2 C768.7,127.6 771.0,123.4 772.5,122.7 C774.0,122.0 774.9,123.6 776.1,126.9 C777.3,130.2 778.8,138.8 779.6,142.6 C780.5,146.4 780.5,146.4 781.2,150.0 C782.0,153.6 783.2,160.2 784.1,164.2 C785.0,168.2 786.0,169.9 786.9,174.2 C787.8,178.5 788.7,184.4 789.8,189.9 C790.9,195.4 792.1,201.0 793.3,206.9 C794.5,212.8 795.7,220.3 796.9,225.4 C798.1,230.5 799.5,235.1 800.5,237.5 C801.5,239.9 801.5,240.3 802.6,239.7 C803.7,239.1 805.4,236.8 806.9,234.0 C808.4,231.2 810.2,226.4 811.9,222.6 C813.5,218.8 815.4,213.6 816.8,211.2 C818.2,208.8 819.2,208.2 820.4,208.4 C821.6,208.6 822.8,210.2 824.0,212.6 C825.2,215.0 826.1,220.0 827.5,222.6 C828.9,225.2 830.7,226.9 832.5,228.3 C834.3,229.7 836.4,230.5 838.2,231.1 C840.0,231.7 841.7,232.5 843.2,231.8 C844.7,231.1 846.3,228.7 847.4,226.9 C848.5,225.1 848.9,223.8 850.0,221.0 C851.1,218.2 852.9,213.8 854.3,209.8 C855.7,205.8 857.2,199.7 858.5,197.0 C859.8,194.3 860.8,193.1 862.1,193.4 C863.4,193.8 864.9,196.4 866.4,199.1 C867.9,201.8 869.9,206.6 871.4,209.8 C872.9,213.0 874.2,216.3 875.6,218.3 C877.0,220.3 878.5,221.2 879.9,221.9 C881.3,222.6 882.8,222.2 884.2,222.6 C885.6,222.9 887.0,225.2 888.4,224.0 C889.8,222.8 891.3,219.1 892.7,215.5 C894.1,211.9 895.3,206.3 897.0,202.7 C898.7,199.1 901.2,194.8 902.7,194.1 C904.2,193.4 905.2,196.3 906.2,198.4 C907.2,200.5 907.6,205.0 908.4,206.9 C909.2,208.8 910.0,207.4 911.2,209.8 C912.4,212.2 914.1,217.6 915.5,221.2 C916.9,224.8 918.4,228.7 919.8,231.1 C921.2,233.5 922.6,233.7 924.0,235.4 C925.4,237.1 926.9,239.4 928.3,241.1 C929.7,242.8 930.9,246.3 932.3,245.4 C933.7,244.5 935.1,239.2 936.8,235.4 C938.5,231.6 940.7,225.6 942.5,222.6 C944.3,219.6 945.8,217.4 947.5,217.6 C949.2,217.8 950.7,221.5 952.5,224.0 C954.3,226.5 956.3,230.0 958.2,232.6 C960.1,235.2 961.9,238.3 963.9,239.7 C965.9,241.1 968.3,240.8 970.0,241.1 C971.7,241.4 972.5,243.2 974.1,241.8 C975.7,240.4 977.9,236.0 979.8,232.6 C981.7,229.2 983.7,223.8 985.5,221.2 C987.3,218.6 988.8,216.7 990.5,216.9 C992.2,217.1 993.7,220.0 995.5,222.6 C997.3,225.2 999.6,229.8 1001.2,232.6 C1002.9,235.4 1003.8,238.0 1005.4,239.7 C1007.0,241.3 1009.0,241.8 1011.1,242.5 C1013.2,243.2 1016.1,245.2 1018.3,244.0 C1020.4,242.8 1022.1,239.0 1024.0,235.4 C1025.9,231.8 1028.0,225.3 1029.6,222.6 C1031.2,219.9 1032.4,219.0 1033.6,219.0 C1034.8,219.0 1035.6,220.5 1036.8,222.6 C1038.0,224.7 1040.0,230.3 1040.7,231.8" stroke="#EA5414"/>
</g>
<g font-family="Liberation Sans, Arial, sans-serif" font-size="29" fill="#222">
<text transform="translate(304.5,334.4) scale(1,1.03)" text-anchor="middle">1950</text>
<text transform="translate(521.2,334.4) scale(1,1.03)" text-anchor="middle">1955</text>
<text transform="translate(737.9,334.4) scale(1,1.03)" text-anchor="middle">1960</text>
<text transform="translate(954.5,334.4) scale(1,1.03)" text-anchor="middle">1965</text>
<text transform="translate(122.5,307.6) scale(1,1.03)" text-anchor="end">0.045</text>
<text transform="translate(122.5,220.4) scale(1,1.03)" text-anchor="end">0.05</text>
<text transform="translate(122.5,133.3) scale(1,1.03)" text-anchor="end">0.055</text>
<text transform="translate(122.5,46.1) scale(1,1.03)" text-anchor="end">0.06</text>
</g>
<text x="585.9" y="373.3" text-anchor="middle" font-family="Liberation Sans, Arial, sans-serif" font-size="31.7" fill="#222">Time (years)</text>
<text transform="translate(38.3,164.6) rotate(-90)" text-anchor="middle" font-family="Liberation Sans, Arial, sans-serif" font-size="31.7" fill="#222">Proportion</text>
<text x="585.9" y="23.3" text-anchor="middle" font-family="Liberation Sans, Arial, sans-serif" font-size="31.4" font-weight="bold" fill="#000">Susceptible Time Series</text>
<rect x="910.4" y="48.6" width="117.2" height="71.1" fill="#fff" stroke="#959595" stroke-width="1.4"/>
<path d="M914.9,66.8H944.1" stroke="#0072C3" stroke-width="4"/>
<path d="M914.9,100.8H944.1" stroke="#EA5414" stroke-width="4"/>
<g font-family="Liberation Sans, Arial, sans-serif" font-size="26" fill="#000">
<text transform="translate(947.3,77.8) scale(1,1.03)">SINDy</text>
<text transform="translate(947.3,111.8) scale(1,1.03)">Data</text>
</g>
<clipPath id="c495"><rect x="130.4" y="495.5" width="910.9" height="261.7"/></clipPath>
<path d="M304.5,757.2V747.7 M304.5,495.5V505.0 M521.2,757.2V747.7 M521.2,495.5V505.0 M737.9,757.2V747.7 M737.9,495.5V505.0 M954.5,757.2V747.7 M954.5,495.5V505.0 M131.0,670.0H140.5 M1040.7,670.0H1031.2 M131.0,582.8H140.5 M1040.7,582.8H1031.2" stroke="#959595" stroke-width="1.4" fill="none"/>
<path d="M130.2,495.5H1041.5" stroke="#959595" stroke-width="1.5"/>
<path d="M130.2,757.2H1041.5" stroke="#959595" stroke-width="1.5"/>
<path d="M131.0,495.5V757.2" stroke="#b0b0b0" stroke-width="2"/>
<path d="M1040.7,495.5V757.2" stroke="#b0b0b0" stroke-width="2"/>
<g clip-path="url(#c495)" fill="none" stroke-width="4.1" stroke-linejoin="round" stroke-linecap="round">
<path d="M131.0,617.6 131.5,616.0 132.0,614.7 132.5,613.6 133.0,612.6 133.5,611.5 134.0,610.6 134.5,609.7 135.0,608.9 135.5,608.3 136.0,607.8 136.5,607.4 137.0,607.2 137.5,607.4 138.0,608.0 138.5,608.7 139.0,609.5 139.5,610.5 140.0,611.6 140.5,612.8 141.0,614.1 141.5,615.5 142.0,616.9 142.5,618.4 143.0,619.9 143.5,621.7 144.0,623.7 144.5,625.9 145.0,628.3 145.5,630.9 146.0,633.6 146.5,636.3 147.0,639.3 147.5,642.6 148.0,646.1 148.5,649.9 149.0,653.7 149.5,657.5 150.0,661.3 150.5,665.2 151.0,669.3 151.5,673.7 152.0,678.7 152.5,684.4 153.0,690.4 153.5,696.6 154.0,702.6 154.5,708.3 155.0,713.4 155.5,717.8 156.0,721.9 156.5,725.8 157.0,729.4 157.5,733.0 158.0,736.5 158.5,740.2 159.0,743.9 159.5,747.9 160.0,749.9 160.5,744.0 161.0,738.9 161.5,734.1 162.0,729.7 162.5,725.3 163.0,721.1 163.5,716.8 164.0,712.3 164.5,707.8 165.0,703.3 165.5,698.9 166.0,694.4 166.5,689.9 167.0,685.3 167.5,680.7 168.0,675.9 168.5,671.0 169.0,665.7 169.5,660.1 170.0,654.4 170.5,649.2 171.0,644.1 171.5,639.2 172.0,634.7 172.5,630.7 173.0,627.0 173.5,623.5 174.0,620.1 174.5,617.1 175.0,614.5 175.5,612.3 176.0,610.5 176.5,608.8 177.0,607.2 177.5,605.6 178.0,604.2 178.5,602.9 179.0,601.7 179.5,600.8 180.0,600.1 180.5,599.7 181.0,599.5 181.5,599.9 182.0,600.6 182.5,601.4 183.0,602.3 183.5,603.4 184.0,604.5 184.5,605.8 185.0,607.2 185.5,608.6 186.0,610.1 186.5,611.6 187.0,613.3 187.5,615.3 188.0,617.5 188.5,620.0 189.0,622.5 189.5,625.2 190.0,628.0 190.5,631.0 191.0,634.3 191.5,638.0 192.0,641.8 192.5,645.6 193.0,649.4 193.5,653.3 194.0,657.3 194.5,661.5 195.0,666.1 195.5,671.4 196.0,677.3 196.5,683.4 197.0,689.7 197.5,695.7 198.0,701.2 198.5,706.1 199.0,710.4 199.5,714.4 200.0,718.2 200.5,721.9 201.0,725.5 201.5,729.1 202.0,732.9 202.5,736.8 203.0,741.0 203.5,735.9 204.0,730.9 204.5,726.4 205.0,722.1 205.5,718.0 206.0,713.9 206.5,709.9 207.0,705.6 207.5,701.3 208.0,697.1 208.5,692.8 209.0,688.6 209.5,684.3 210.0,680.0 210.5,675.5 211.0,671.0 211.5,666.2 212.0,661.1 212.5,655.7 213.0,650.5 213.5,645.6 214.0,640.8 214.5,636.3 215.0,632.2 215.5,628.6 216.0,625.1 216.5,621.9 217.0,618.8 217.5,616.2 218.0,613.9 218.5,612.2 219.0,610.5 219.5,608.9 220.0,607.4 220.5,606.0 221.0,604.8 221.5,603.6 222.0,602.7 222.5,602.0 223.0,601.6 223.5,601.4 224.0,601.8 224.5,602.4 225.0,603.1 225.5,604.0 226.0,605.0 226.5,606.0 227.0,607.2 227.5,608.5 228.0,609.8 228.5,611.2 229.0,612.6 229.5,614.2 230.0,616.0 230.5,618.0 231.0,620.2 231.5,622.5 232.0,625.0 232.5,627.6 233.0,630.3 233.5,633.2 234.0,636.5 234.5,640.0 235.0,643.6 235.5,647.3 236.0,650.9 236.5,654.6 237.0,658.4 237.5,662.4 238.0,666.8 238.5,671.7 239.0,677.3 239.5,683.1 240.0,689.0 240.5,694.8 241.0,700.3 241.5,705.1 242.0,709.3 242.5,713.3 243.0,716.9 243.5,720.5 244.0,723.9 244.5,727.3 245.0,730.8 245.5,734.5 246.0,738.4 246.5,739.7 247.0,734.2 247.5,729.4 248.0,724.9 248.5,720.7 249.0,716.6 249.5,712.6 250.0,708.5 250.5,704.2 251.0,699.9 251.5,695.7 252.0,691.4 252.5,687.2 253.0,682.9 253.5,678.5 254.0,674.0 254.5,669.4 255.0,664.6 255.5,659.4 256.0,653.9 256.5,648.8 257.0,644.0 257.5,639.3 258.0,634.9 258.5,630.9 259.0,627.4 259.5,624.0 260.0,620.8 260.5,617.9 261.0,615.4 261.5,613.3 262.0,611.6 262.5,610.0 263.0,608.4 263.5,607.0 264.0,605.6 264.5,604.4 265.0,603.3 265.5,602.5 266.0,601.8 266.5,601.5 267.0,601.5 267.5,602.0 268.0,602.6 268.5,603.4 269.0,604.3 269.5,605.3 270.0,606.4 270.5,607.7 271.0,608.9 271.5,610.3 272.0,611.7 272.5,613.1 273.0,614.8 273.5,616.6 274.0,618.7 274.5,620.9 275.0,623.4 275.5,625.9 276.0,628.5 276.5,631.3 277.0,634.3 277.5,637.6 278.0,641.2 278.5,644.8 279.0,648.5 279.5,652.1 280.0,655.8 280.5,659.7 281.0,663.8 281.5,668.4 282.0,673.5 282.5,679.2 283.0,685.1 283.5,691.0 284.0,696.7 284.5,702.0 285.0,706.6 285.5,710.7 286.0,714.5 286.5,718.1 287.0,721.6 287.5,725.1 288.0,728.5 288.5,732.0 289.0,735.8 289.5,739.7 290.0,737.7 290.5,732.5 291.0,727.8 291.5,723.5 292.0,719.3 292.5,715.3 293.0,711.2 293.5,707.1 294.0,702.7 294.5,698.5 295.0,694.2 295.5,690.0 296.0,685.7 296.5,681.4 297.0,677.0 297.5,672.5 298.0,667.8 298.5,662.9 299.0,657.5 299.5,652.2 300.0,647.2 300.5,642.4 301.0,637.8 301.5,633.5 302.0,629.8 302.5,626.3 303.0,622.9 303.5,619.8 304.0,617.0 304.5,614.6 305.0,612.7 305.5,611.1 306.0,609.5 306.5,607.9 307.0,606.5 307.5,605.2 308.0,604.0 308.5,603.0 309.0,602.2 309.5,601.7 310.0,601.4 310.5,601.6 311.0,602.2 311.5,602.8 312.0,603.7 312.5,604.6 313.0,605.7 313.5,606.8 314.0,608.1 314.5,609.4 315.0,610.8 315.5,612.2 316.0,613.6 316.5,615.4 317.0,617.3 317.5,619.4 318.0,621.7 318.5,624.2 319.0,626.8 319.5,629.4 320.0,632.2 320.5,635.4 321.0,638.8 321.5,642.4 322.0,646.1 322.5,649.7 323.0,653.4 323.5,657.1 324.0,661.0 324.5,665.3 325.0,670.0 325.5,675.4 326.0,681.1 326.5,687.1 327.0,692.9 327.5,698.5 328.0,703.6 328.5,708.0 329.0,712.0 329.5,715.7 330.0,719.3 330.5,722.8 331.0,726.2 331.5,729.7 332.0,733.3 332.5,737.1 333.0,741.0 333.5,735.9 334.0,730.9 334.5,726.3 335.0,722.1 335.5,718.0 336.0,713.9 336.5,709.8 337.0,705.6 337.5,701.3 338.0,697.1 338.5,692.8 339.0,688.6 339.5,684.3 340.0,680.0 340.5,675.5 341.0,671.0 341.5,666.2 342.0,661.1 342.5,655.7 343.0,650.4 343.5,645.6 344.0,640.8 344.5,636.3 345.0,632.2 345.5,628.6 346.0,625.1 346.5,621.9 347.0,618.8 347.5,616.2 348.0,613.9 348.5,612.1 349.0,610.5 349.5,608.9 350.0,607.4 350.5,606.0 351.0,604.7 351.5,603.6 352.0,602.7 352.5,602.0 353.0,601.6 353.5,601.4 354.0,601.8 354.5,602.4 355.0,603.1 355.5,604.0 356.0,605.0 356.5,606.1 357.0,607.2 357.5,608.5 358.0,609.8 358.5,611.2 359.0,612.6 359.5,614.2 360.0,616.0 360.5,618.0 361.0,620.2 361.5,622.5 362.0,625.0 362.5,627.6 363.0,630.3 363.5,633.2 364.0,636.5 364.5,640.0 365.0,643.6 365.5,647.3 366.0,650.9 366.5,654.6 367.0,658.4 367.5,662.4 368.0,666.8 368.5,671.7 369.0,677.3 369.5,683.1 370.0,689.0 370.5,694.8 371.0,700.3 371.5,705.1 372.0,709.3 372.5,713.3 373.0,717.0 373.5,720.5 374.0,723.9 374.5,727.3 375.0,730.9 375.5,734.5 376.0,738.4 376.5,739.7 377.0,734.2 377.5,729.3 378.0,724.9 378.5,720.7 379.0,716.6 379.5,712.6 380.0,708.5 380.5,704.2 381.0,699.9 381.5,695.6 382.0,691.4 382.5,687.2 383.0,682.9 383.5,678.5 384.0,674.0 384.5,669.4 385.0,664.6 385.5,659.3 386.0,653.9 386.5,648.8 387.0,644.0 387.5,639.3 388.0,634.9 388.5,630.9 389.0,627.4 389.5,624.0 390.0,620.8 390.5,617.9 391.0,615.3 391.5,613.3 392.0,611.6 392.5,610.0 393.0,608.4 393.5,606.9 394.0,605.6 394.5,604.4 395.0,603.3 395.5,602.5 396.0,601.8 396.5,601.5 397.0,601.5 397.5,602.0 398.0,602.6 398.5,603.4 399.0,604.3 399.5,605.3 400.0,606.4 400.5,607.7 401.0,608.9 401.5,610.3 402.0,611.7 402.5,613.1 403.0,614.8 403.5,616.6 404.0,618.7 404.5,620.9 405.0,623.4 405.5,625.9 406.0,628.5 406.5,631.3 407.0,634.3 407.5,637.6 408.0,641.2 408.5,644.8 409.0,648.5 409.5,652.1 410.0,655.8 410.5,659.7 411.0,663.8 411.5,668.4 412.0,673.5 412.5,679.2 413.0,685.1 413.5,691.0 414.0,696.7 414.5,702.0 415.0,706.6 415.5,710.7 416.0,714.5 416.5,718.1 417.0,721.6 417.5,725.1 418.0,728.5 418.5,732.1 419.0,735.8 419.5,739.7 420.0,737.7 420.5,732.5 421.0,727.8 421.5,723.5 422.0,719.3 422.5,715.3 423.0,711.2 423.5,707.1 424.0,702.7 424.5,698.5 425.0,694.2 425.5,690.0 426.0,685.7 426.5,681.4 427.0,677.0 427.5,672.5 428.0,667.8 428.5,662.9 429.0,657.5 429.5,652.2 430.0,647.2 430.5,642.4 431.0,637.8 431.5,633.5 432.0,629.8 432.5,626.3 433.0,622.9 433.5,619.8 434.0,617.0 434.5,614.6 435.0,612.7 435.5,611.1 436.0,609.5 436.5,607.9 437.0,606.5 437.5,605.2 438.0,604.0 438.5,603.0 439.0,602.2 439.5,601.7 440.0,601.4 440.5,601.6 441.0,602.2 441.5,602.8 442.0,603.7 442.5,604.6 443.0,605.7 443.5,606.8 444.0,608.1 444.5,609.4 445.0,610.8 445.5,612.2 446.0,613.6 446.5,615.4 447.0,617.3 447.5,619.4 448.0,621.7 448.5,624.2 449.0,626.8 449.5,629.4 450.0,632.2 450.5,635.4 451.0,638.8 451.5,642.4 452.0,646.1 452.5,649.7 453.0,653.4 453.5,657.1 454.0,661.1 454.5,665.3 455.0,670.0 455.5,675.4 456.0,681.1 456.5,687.1 457.0,693.0 457.5,698.5 458.0,703.6 458.5,708.0 459.0,712.0 459.5,715.8 460.0,719.3 460.5,722.8 461.0,726.2 461.5,729.7 462.0,733.3 462.5,737.1 463.0,741.0 463.5,735.9 464.0,730.9 464.5,726.3 465.0,722.1 465.5,718.0 466.0,713.9 466.5,709.8 467.0,705.6 467.5,701.3 468.0,697.1 468.5,692.8 469.0,688.6 469.5,684.3 470.0,680.0 470.5,675.5 471.0,670.9 471.5,666.2 472.0,661.1 472.5,655.7 473.0,650.4 473.5,645.6 474.0,640.8 474.5,636.3 475.0,632.2 475.5,628.6 476.0,625.1 476.5,621.8 477.0,618.8 477.5,616.1 478.0,613.9 478.5,612.1 479.0,610.5 479.5,608.9 480.0,607.4 480.5,606.0 481.0,604.7 481.5,603.6 482.0,602.7 482.5,602.0 483.0,601.6 483.5,601.4 484.0,601.8 484.5,602.4 485.0,603.1 485.5,604.0 486.0,605.0 486.5,606.1 487.0,607.2 487.5,608.5 488.0,609.8 488.5,611.2 489.0,612.6 489.5,614.2 490.0,616.0 490.5,618.0 491.0,620.2 491.5,622.5 492.0,625.0 492.5,627.6 493.0,630.3 493.5,633.3 494.0,636.5 494.5,640.0 495.0,643.6 495.5,647.3 496.0,650.9 496.5,654.6 497.0,658.4 497.5,662.4 498.0,666.8 498.5,671.8 499.0,677.3 499.5,683.1 500.0,689.1 500.5,694.9 501.0,700.3 501.5,705.1 502.0,709.4 502.5,713.3 503.0,717.0 503.5,720.5 504.0,723.9 504.5,727.4 505.0,730.9 505.5,734.5 506.0,738.4 506.5,739.7 507.0,734.1 507.5,729.3 508.0,724.9 508.5,720.7 509.0,716.6 509.5,712.6 510.0,708.5 510.5,704.2 511.0,699.9 511.5,695.6 512.0,691.4 512.5,687.2 513.0,682.9 513.5,678.5 514.0,674.0 514.5,669.4 515.0,664.6 515.5,659.3 516.0,653.9 516.5,648.8 517.0,644.0 517.5,639.3 518.0,634.9 518.5,630.9 519.0,627.4 519.5,624.0 520.0,620.8 520.5,617.9 521.0,615.3 521.5,613.3 522.0,611.6 522.5,610.0 523.0,608.4 523.5,606.9 524.0,605.6 524.5,604.4 525.0,603.3 525.5,602.5 526.0,601.8 526.5,601.5 527.0,601.5 527.5,602.0 528.0,602.6 528.5,603.4 529.0,604.3 529.5,605.3 530.0,606.4 530.5,607.7 531.0,608.9 531.5,610.3 532.0,611.7 532.5,613.1 533.0,614.8 533.5,616.6 534.0,618.7 534.5,621.0 535.0,623.4 535.5,625.9 536.0,628.5 536.5,631.3 537.0,634.3 537.5,637.6 538.0,641.2 538.5,644.9 539.0,648.5 539.5,652.2 540.0,655.9 540.5,659.7 541.0,663.8 541.5,668.4 542.0,673.6 542.5,679.2 543.0,685.1 543.5,691.0 544.0,696.7 544.5,702.0 545.0,706.6 545.5,710.7 546.0,714.5 546.5,718.2 547.0,721.6 547.5,725.1 548.0,728.5 548.5,732.1 549.0,735.8 549.5,739.7 550.0,737.7 550.5,732.5 551.0,727.8 551.5,723.5 552.0,719.3 552.5,715.3 553.0,711.2 553.5,707.0 554.0,702.7 554.5,698.5 555.0,694.2 555.5,690.0 556.0,685.7 556.5,681.4 557.0,677.0 557.5,672.5 558.0,667.8 558.5,662.9 559.0,657.5 559.5,652.2 560.0,647.2 560.5,642.4 561.0,637.7 561.5,633.5 562.0,629.7 562.5,626.3 563.0,622.9 563.5,619.8 564.0,617.0 564.5,614.6 565.0,612.7 565.5,611.1 566.0,609.5 566.5,607.9 567.0,606.5 567.5,605.2 568.0,604.0 568.5,603.0 569.0,602.2 569.5,601.7 570.0,601.4 570.5,601.6 571.0,602.2 571.5,602.8 572.0,603.7 572.5,604.6 573.0,605.7 573.5,606.8 574.0,608.1 574.5,609.4 575.0,610.8 575.5,612.2 576.0,613.6 576.5,615.4 577.0,617.3 577.5,619.4 578.0,621.7 578.5,624.2 579.0,626.8 579.5,629.4 580.0,632.2 580.5,635.4 581.0,638.8 581.5,642.4 582.0,646.1 582.5,649.7 583.0,653.4 583.5,657.1 584.0,661.1 584.5,665.3 585.0,670.0 585.5,675.4 586.0,681.2 586.5,687.1 587.0,693.0 587.5,698.5 588.0,703.6 588.5,708.0 589.0,712.0 589.5,715.8 590.0,719.3 590.5,722.8 591.0,726.2 591.5,729.7 592.0,733.3 592.5,737.1 593.0,741.0 593.5,735.8 594.0,730.9 594.5,726.3 595.0,722.1 595.5,717.9 596.0,713.9 596.5,709.8 597.0,705.6 597.5,701.3 598.0,697.0 598.5,692.8 599.0,688.6 599.5,684.3 600.0,680.0 600.5,675.5 601.0,670.9 601.5,666.2 602.0,661.1 602.5,655.7 603.0,650.4 603.5,645.6 604.0,640.8 604.5,636.3 605.0,632.2 605.5,628.6 606.0,625.1 606.5,621.8 607.0,618.8 607.5,616.1 608.0,613.9 608.5,612.1 609.0,610.5 609.5,608.9 610.0,607.4 610.5,606.0 611.0,604.7 611.5,603.6 612.0,602.7 612.5,602.0 613.0,601.6 613.5,601.4 614.0,601.8 614.5,602.4 615.0,603.1 615.5,604.0 616.0,605.0 616.5,606.1 617.0,607.2 617.5,608.5 618.0,609.8 618.5,611.2 619.0,612.6 619.5,614.2 620.0,616.0 620.5,618.0 621.0,620.2 621.5,622.5 622.0,625.0 622.5,627.7 623.0,630.3 623.5,633.3 624.0,636.5 624.5,640.0 625.0,643.6 625.5,647.3 626.0,650.9 626.5,654.6 627.0,658.4 627.5,662.4 628.0,666.8 628.5,671.8 629.0,677.3 629.5,683.1 630.0,689.1 630.5,694.9 631.0,700.3 631.5,705.1 632.0,709.4 632.5,713.3 633.0,717.0 633.5,720.5 634.0,723.9 634.5,727.4 635.0,730.9 635.5,734.5 636.0,738.4 636.5,739.7 637.0,734.1 637.5,729.3 638.0,724.9 638.5,720.7 639.0,716.6 639.5,712.6 640.0,708.4 640.5,704.2 641.0,699.9 641.5,695.6 642.0,691.4 642.5,687.1 643.0,682.9 643.5,678.5 644.0,674.0 644.5,669.4 645.0,664.6 645.5,659.3 646.0,653.9 646.5,648.8 647.0,644.0 647.5,639.3 648.0,634.8 648.5,630.9 649.0,627.4 649.5,624.0 650.0,620.8 650.5,617.9 651.0,615.3 651.5,613.3 652.0,611.6 652.5,610.0 653.0,608.4 653.5,606.9 654.0,605.6 654.5,604.4 655.0,603.3 655.5,602.5 656.0,601.8 656.5,601.5 657.0,601.5 657.5,602.0 658.0,602.6 658.5,603.4 659.0,604.3 659.5,605.3 660.0,606.4 660.5,607.7 661.0,608.9 661.5,610.3 662.0,611.7 662.5,613.1 663.0,614.8 663.5,616.6 664.0,618.7 664.5,621.0 665.0,623.4 665.5,625.9 666.0,628.5 666.5,631.3 667.0,634.3 667.5,637.7 668.0,641.2 668.5,644.9 669.0,648.5 669.5,652.2 670.0,655.9 670.5,659.7 671.0,663.8 671.5,668.4 672.0,673.6 672.5,679.2 673.0,685.1 673.5,691.0 674.0,696.7 674.5,702.0 675.0,706.6 675.5,710.7 676.0,714.5 676.5,718.2 677.0,721.6 677.5,725.1 678.0,728.5 678.5,732.1 679.0,735.8 679.5,739.7 680.0,737.7 680.5,732.5 681.0,727.8 681.5,723.4 682.0,719.3 682.5,715.2 683.0,711.2 683.5,707.0 684.0,702.7 684.5,698.5 685.0,694.2 685.5,690.0 686.0,685.7 686.5,681.4 687.0,677.0 687.5,672.5 688.0,667.8 688.5,662.9 689.0,657.5 689.5,652.1 690.0,647.2 690.5,642.4 691.0,637.7 691.5,633.5 692.0,629.7 692.5,626.3 693.0,622.9 693.5,619.8 694.0,617.0 694.5,614.6 695.0,612.7 695.5,611.1 696.0,609.5 696.5,607.9 697.0,606.5 697.5,605.1 698.0,604.0 698.5,603.0 699.0,602.2 699.5,601.7 700.0,601.4 700.5,601.6 701.0,602.2 701.5,602.9 702.0,603.7 702.5,604.6 703.0,605.7 703.5,606.8 704.0,608.1 704.5,609.4 705.0,610.8 705.5,612.2 706.0,613.7 706.5,615.4 707.0,617.3 707.5,619.4 708.0,621.7 708.5,624.2 709.0,626.8 709.5,629.4 710.0,632.3 710.5,635.4 711.0,638.8 711.5,642.4 712.0,646.1 712.5,649.7 713.0,653.4 713.5,657.1 714.0,661.1 714.5,665.3 715.0,670.0 715.5,675.4 716.0,681.2 716.5,687.1 717.0,693.0 717.5,698.5 718.0,703.6 718.5,708.0 719.0,712.0 719.5,715.8 720.0,719.3 720.5,722.8 721.0,726.2 721.5,729.7 722.0,733.3 722.5,737.1 723.0,741.0 723.5,735.8 724.0,730.9 724.5,726.3 725.0,722.0 725.5,717.9 726.0,713.9 726.5,709.8 727.0,705.6 727.5,701.3 728.0,697.0 728.5,692.8 729.0,688.6 729.5,684.3 730.0,679.9 730.5,675.5 731.0,670.9 731.5,666.2 732.0,661.1 732.5,655.7 733.0,650.4 733.5,645.5 734.0,640.8 734.5,636.3 735.0,632.2 735.5,628.6 736.0,625.1 736.5,621.8 737.0,618.8 737.5,616.1 738.0,613.9 738.5,612.1 739.0,610.5 739.5,608.9 740.0,607.4 740.5,606.0 741.0,604.7 741.5,603.6 742.0,602.7 742.5,602.0 743.0,601.6 743.5,601.4 744.0,601.8 744.5,602.4 745.0,603.1 745.5,604.0 746.0,605.0 746.5,606.1 747.0,607.2 747.5,608.5 748.0,609.8 748.5,611.2 749.0,612.6 749.5,614.2 750.0,616.0 750.5,618.0 751.0,620.2 751.5,622.6 752.0,625.0 752.5,627.7 753.0,630.4 753.5,633.3 754.0,636.5 754.5,640.0 755.0,643.6 755.5,647.3 756.0,650.9 756.5,654.6 757.0,658.4 757.5,662.4 758.0,666.8 758.5,671.8 759.0,677.3 759.5,683.1 760.0,689.1 760.5,694.9 761.0,700.3 761.5,705.1 762.0,709.4 762.5,713.3 763.0,717.0 763.5,720.5 764.0,723.9 764.5,727.4 765.0,730.9 765.5,734.5 766.0,738.4 766.5,739.7 767.0,734.1 767.5,729.3 768.0,724.9 768.5,720.7 769.0,716.6 769.5,712.5 770.0,708.4 770.5,704.2 771.0,699.9 771.5,695.6 772.0,691.4 772.5,687.1 773.0,682.8 773.5,678.5 774.0,674.0 774.5,669.4 775.0,664.6 775.5,659.3 776.0,653.9 776.5,648.8 777.0,643.9 777.5,639.2 778.0,634.8 778.5,630.9 779.0,627.4 779.5,624.0 780.0,620.8 780.5,617.9 781.0,615.3 781.5,613.3 782.0,611.6 782.5,610.0 783.0,608.4 783.5,606.9 784.0,605.6 784.5,604.4 785.0,603.3 785.5,602.5 786.0,601.8 786.5,601.5 787.0,601.5 787.5,602.0 788.0,602.6 788.5,603.4 789.0,604.3 789.5,605.3 790.0,606.4 790.5,607.7 791.0,609.0 791.5,610.3 792.0,611.7 792.5,613.1 793.0,614.8 793.5,616.6 794.0,618.7 794.5,621.0 795.0,623.4 795.5,625.9 796.0,628.6 796.5,631.3 797.0,634.3 797.5,637.7 798.0,641.2 798.5,644.9 799.0,648.5 799.5,652.2 800.0,655.9 800.5,659.7 801.0,663.9 801.5,668.4 802.0,673.6 802.5,679.2 803.0,685.1 803.5,691.0 804.0,696.7 804.5,702.0 805.0,706.6 805.5,710.7 806.0,714.5 806.5,718.2 807.0,721.7 807.5,725.1 808.0,728.5 808.5,732.1 809.0,735.8 809.5,739.7 810.0,737.7 810.5,732.5 811.0,727.8 811.5,723.4 812.0,719.3 812.5,715.2 813.0,711.2 813.5,707.0 814.0,702.7 814.5,698.4 815.0,694.2 815.5,690.0 816.0,685.7 816.5,681.4 817.0,677.0 817.5,672.5 818.0,667.8 818.5,662.8 819.0,657.5 819.5,652.1 820.0,647.1 820.5,642.4 821.0,637.7 821.5,633.5 822.0,629.7 822.5,626.2 823.0,622.9 823.5,619.8 824.0,617.0 824.5,614.6 825.0,612.7 825.5,611.1 826.0,609.4 826.5,607.9 827.0,606.5 827.5,605.1 828.0,604.0 828.5,603.0 829.0,602.2 829.5,601.7 830.0,601.4 830.5,601.6 831.0,602.2 831.5,602.9 832.0,603.7 832.5,604.6 833.0,605.7 833.5,606.8 834.0,608.1 834.5,609.4 835.0,610.8 835.5,612.2 836.0,613.7 836.5,615.4 837.0,617.3 837.5,619.4 838.0,621.8 838.5,624.2 839.0,626.8 839.5,629.5 840.0,632.3 840.5,635.4 841.0,638.8 841.5,642.4 842.0,646.1 842.5,649.7 843.0,653.4 843.5,657.1 844.0,661.1 844.5,665.3 845.0,670.1 845.5,675.4 846.0,681.2 846.5,687.1 847.0,693.0 847.5,698.6 848.0,703.6 848.5,708.0 849.0,712.0 849.5,715.8 850.0,719.3 850.5,722.8 851.0,726.2 851.5,729.7 852.0,733.3 852.5,737.1 853.0,741.0 853.5,735.8 854.0,730.9 854.5,726.3 855.0,722.0 855.5,717.9 856.0,713.9 856.5,709.8 857.0,705.6 857.5,701.3 858.0,697.0 858.5,692.8 859.0,688.6 859.5,684.3 860.0,679.9 860.5,675.5 861.0,670.9 861.5,666.2 862.0,661.1 862.5,655.7 863.0,650.4 863.5,645.5 864.0,640.8 864.5,636.3 865.0,632.2 865.5,628.6 866.0,625.1 866.5,621.8 867.0,618.8 867.5,616.1 868.0,613.9 868.5,612.1 869.0,610.5 869.5,608.9 870.0,607.4 870.5,606.0 871.0,604.7 871.5,603.6 872.0,602.7 872.5,602.0 873.0,601.6 873.5,601.4 874.0,601.8 874.5,602.4 875.0,603.1 875.5,604.0 876.0,605.0 876.5,606.1 877.0,607.2 877.5,608.5 878.0,609.8 878.5,611.2 879.0,612.7 879.5,614.2 880.0,616.0 880.5,618.0 881.0,620.2 881.5,622.6 882.0,625.1 882.5,627.7 883.0,630.4 883.5,633.3 884.0,636.5 884.5,640.0 885.0,643.6 885.5,647.3 886.0,651.0 886.5,654.6 887.0,658.4 887.5,662.5 888.0,666.8 888.5,671.8 889.0,677.3 889.5,683.2 890.0,689.1 890.5,694.9 891.0,700.3 891.5,705.1 892.0,709.4 892.5,713.3 893.0,717.0 893.5,720.5 894.0,723.9 894.5,727.4 895.0,730.9 895.5,734.5 896.0,738.4 896.5,739.7 897.0,734.1 897.5,729.3 898.0,724.9 898.5,720.6 899.0,716.6 899.5,712.5 900.0,708.4 900.5,704.1 901.0,699.9 901.5,695.6 902.0,691.4 902.5,687.1 903.0,682.8 903.5,678.5 904.0,674.0 904.5,669.4 905.0,664.5 905.5,659.3 906.0,653.9 906.5,648.7 907.0,643.9 907.5,639.2 908.0,634.8 908.5,630.9 909.0,627.4 909.5,624.0 910.0,620.8 910.5,617.9 911.0,615.3 911.5,613.3 912.0,611.6 912.5,610.0 913.0,608.4 913.5,606.9 914.0,605.6 914.5,604.3 915.0,603.3 915.5,602.4 916.0,601.8 916.5,601.5 917.0,601.5 917.5,602.0 918.0,602.6 918.5,603.4 919.0,604.3 919.5,605.3 920.0,606.4 920.5,607.7 921.0,609.0 921.5,610.3 922.0,611.7 922.5,613.1 923.0,614.8 923.5,616.6 924.0,618.7 924.5,621.0 925.0,623.4 925.5,625.9 926.0,628.6 926.5,631.3 927.0,634.3 927.5,637.7 928.0,641.2 928.5,644.9 929.0,648.5 929.5,652.2 930.0,655.9 930.5,659.7 931.0,663.9 931.5,668.4 932.0,673.6 932.5,679.2 933.0,685.1 933.5,691.1 934.0,696.8 934.5,702.0 935.0,706.6 935.5,710.7 936.0,714.6 936.5,718.2 937.0,721.7 937.5,725.1 938.0,728.5 938.5,732.1 939.0,735.8 939.5,739.7 940.0,737.7 940.5,732.5 941.0,727.8 941.5,723.4 942.0,719.3 942.5,715.2 943.0,711.2 943.5,707.0 944.0,702.7 944.5,698.4 945.0,694.2 945.5,690.0 946.0,685.7 946.5,681.4 947.0,677.0 947.5,672.5 948.0,667.8 948.5,662.8 949.0,657.5 949.5,652.1 950.0,647.1 950.5,642.3 951.0,637.7 951.5,633.5 952.0,629.7 952.5,626.2 953.0,622.9 953.5,619.8 954.0,617.0 954.5,614.6 955.0,612.7 955.5,611.0 956.0,609.4 956.5,607.9 957.0,606.5 957.5,605.1 958.0,604.0 958.5,603.0 959.0,602.2 959.5,601.7 960.0,601.4 960.5,601.6 961.0,602.2 961.5,602.9 962.0,603.7 962.5,604.6 963.0,605.7 963.5,606.8 964.0,608.1 964.5,609.4 965.0,610.8 965.5,612.2 966.0,613.7 966.5,615.4 967.0,617.3 967.5,619.4 968.0,621.8 968.5,624.2 969.0,626.8 969.5,629.5 970.0,632.3 970.5,635.4 971.0,638.8 971.5,642.4 972.0,646.1 972.5,649.8 973.0,653.4 973.5,657.1 974.0,661.1 974.5,665.3 975.0,670.1 975.5,675.4 976.0,681.2 976.5,687.1 977.0,693.0 977.5,698.6 978.0,703.6 978.5,708.0 979.0,712.0 979.5,715.8 980.0,719.4 980.5,722.8 981.0,726.2 981.5,729.7 982.0,733.3 982.5,737.1 983.0,741.0 983.5,735.8 984.0,730.9 984.5,726.3 985.0,722.0 985.5,717.9 986.0,713.9 986.5,709.8 987.0,705.6 987.5,701.3 988.0,697.0 988.5,692.8 989.0,688.5 989.5,684.3 990.0,679.9 990.5,675.5 991.0,670.9 991.5,666.2 992.0,661.1 992.5,655.7 993.0,650.4 993.5,645.5 994.0,640.8 994.5,636.2 995.0,632.1 995.5,628.6 996.0,625.1 996.5,621.8 997.0,618.8 997.5,616.1 998.0,613.9 998.5,612.1 999.0,610.5 999.5,608.9 1000.0,607.4 1000.5,606.0 1001.0,604.7 1001.5,603.6 1002.0,602.7 1002.5,602.0 1003.0,601.6 1003.5,601.4 1004.0,601.8 1004.5,602.4 1005.0,603.1 1005.5,604.0 1006.0,605.0 1006.5,606.1 1007.0,607.3 1007.5,608.5 1008.0,609.9 1008.5,611.2 1009.0,612.7 1009.5,614.2 1010.0,616.0 1010.5,618.0 1011.0,620.2 1011.5,622.6 1012.0,625.1 1012.5,627.7 1013.0,630.4 1013.5,633.3 1014.0,636.5 1014.5,640.0 1015.0,643.7 1015.5,647.3 1016.0,651.0 1016.5,654.6 1017.0,658.4 1017.5,662.5 1018.0,666.8 1018.5,671.8 1019.0,677.3 1019.5,683.2 1020.0,689.1 1020.5,694.9 1021.0,700.3 1021.5,705.1 1022.0,709.4 1022.5,713.3 1023.0,717.0 1023.5,720.5 1024.0,724.0 1024.5,727.4 1025.0,730.9 1025.5,734.5 1026.0,738.4 1026.5,741.4 1027.0,737.8 1027.5,734.2 1028.0,730.6 1028.5,727.1 1029.0,723.6 1029.5,720.2 1030.0,716.7 1030.5,713.4 1031.0,710.0 1031.5,706.8 1032.0,703.7 1032.5,700.7 1033.0,697.8 1033.5,694.8 1034.0,691.8 1034.5,688.6 1035.0,685.2 1035.5,681.6 1036.0,677.6 1036.5,673.3 1037.0,668.8 1037.5,664.1 1038.0,659.1 1038.5,653.8 1039.0,648.4 1039.5,642.7 1040.0,636.8 1040.5,630.8 1040.7,628.3" stroke="#0072C3"/>
<path d="M131.0,623.0 C131.4,623.5 132.5,623.7 133.2,626.0 C133.9,628.3 134.2,629.3 135.0,636.6 C135.8,643.9 137.2,660.0 138.3,669.8 C139.4,679.6 140.3,695.6 141.6,695.6 C142.8,695.6 144.5,677.3 145.8,669.8 C147.1,662.3 148.3,649.9 149.6,650.7 C150.8,651.5 152.1,664.7 153.3,674.8 C154.5,684.9 155.5,701.4 156.6,711.4 C157.7,721.4 158.7,734.6 159.9,734.6 C161.2,734.6 162.8,721.4 164.1,711.4 C165.3,701.4 166.3,687.3 167.4,674.8 C168.5,662.3 169.7,645.9 170.7,636.6 C171.7,627.3 172.5,621.3 173.3,619.0 C174.1,616.7 174.6,620.6 175.5,623.0 C176.4,625.4 177.9,627.1 179.0,633.3 C180.1,639.4 180.9,653.5 182.3,659.9 C183.7,666.3 185.8,670.0 187.3,671.5 C188.8,673.0 190.2,667.6 191.5,669.0 C192.8,670.4 193.7,674.1 194.8,679.8 C195.9,685.5 197.0,694.1 198.1,703.0 C199.2,711.9 200.4,726.1 201.4,733.0 C202.4,739.9 202.9,744.6 203.9,744.6 C204.9,744.6 206.1,741.3 207.2,733.0 C208.3,724.7 209.5,707.5 210.6,694.8 C211.7,682.0 212.8,667.9 213.9,656.5 C215.0,645.1 216.2,632.4 217.2,626.6 C218.1,620.9 218.3,620.6 219.6,622.0 C220.8,623.4 223.3,629.8 224.7,635.0 C226.1,640.2 226.8,651.6 228.0,653.2 C229.2,654.9 231.0,649.4 232.2,644.9 C233.4,640.4 234.2,627.4 235.3,626.0 C236.4,624.6 237.8,627.9 238.8,636.6 C239.8,645.3 240.3,664.2 241.3,678.1 C242.3,692.0 243.8,708.6 244.6,719.7 C245.4,730.8 245.5,743.2 246.1,744.6 C246.7,746.0 247.5,737.7 248.3,728.0 C249.1,718.3 250.0,698.6 250.8,686.4 C251.6,674.2 252.6,666.4 253.3,655.0 C254.0,643.6 254.6,630.7 255.2,618.3 C255.8,605.9 256.5,593.0 257.1,580.4 C257.7,567.8 258.4,553.5 259.0,542.4 C259.6,531.3 260.2,520.8 260.9,514.0 C261.6,507.2 262.4,501.6 263.3,501.6 C264.2,501.6 265.7,507.2 266.6,514.0 C267.5,520.8 268.0,533.9 268.5,542.4 C269.0,550.9 268.8,557.9 269.4,565.2 C270.0,572.5 271.4,579.5 272.3,586.1 C273.2,592.8 274.3,600.1 275.1,605.1 C275.9,610.1 276.3,609.8 277.0,616.4 C277.7,623.0 278.4,634.6 279.1,644.9 C279.9,655.2 280.5,667.0 281.5,678.1 C282.5,689.2 283.9,701.1 284.9,711.4 C285.9,721.6 286.7,733.0 287.4,739.6 C288.1,746.2 288.2,751.2 289.0,751.2 C289.8,751.2 291.2,747.6 292.3,739.6 C293.4,731.6 294.6,714.6 295.7,703.0 C296.8,691.4 297.9,679.2 299.0,669.8 C300.1,660.4 301.1,651.7 302.3,646.6 C303.6,641.5 305.2,638.8 306.5,639.1 C307.8,639.4 308.8,643.1 309.8,648.2 C310.8,653.3 311.3,663.1 312.3,669.8 C313.3,676.4 314.5,685.3 315.6,688.1 C316.7,690.9 317.9,687.2 318.9,686.4 C319.9,685.6 320.4,681.7 321.4,683.1 C322.4,684.5 323.6,689.2 324.7,694.8 C325.8,700.3 327.0,708.9 328.1,716.4 C329.2,723.9 330.2,737.4 331.4,739.6 C332.6,741.8 334.2,737.1 335.5,729.6 C336.8,722.1 338.0,706.4 338.9,694.8 C339.8,683.2 339.9,673.9 340.7,660.0 C341.5,646.1 342.6,625.3 343.5,611.2 C344.4,597.1 345.2,585.6 346.4,575.6 C347.5,565.6 349.2,552.6 350.4,551.4 C351.6,550.2 352.5,559.7 353.5,568.5 C354.5,577.3 355.4,593.8 356.4,604.0 C357.4,614.2 358.6,629.7 359.5,629.7 C360.4,629.7 361.1,612.1 362.0,604.0 C362.9,595.9 363.9,582.5 364.9,581.3 C365.8,580.1 366.9,589.6 367.7,597.0 C368.5,604.4 369.2,614.9 369.9,625.4 C370.6,635.9 371.4,647.1 372.0,660.0 C372.6,672.9 372.8,689.7 373.6,703.0 C374.4,716.3 375.6,739.6 376.6,739.6 C377.7,739.6 378.9,716.0 379.9,703.0 C380.9,690.0 381.5,676.8 382.4,661.5 C383.3,646.2 384.5,627.9 385.5,611.2 C386.5,594.5 387.4,573.3 388.4,561.4 C389.4,549.5 390.5,542.0 391.5,540.0 C392.5,538.0 393.5,543.1 394.5,549.5 C395.5,555.9 396.7,569.7 397.5,578.1 C398.3,586.5 398.5,595.8 399.2,599.7 C399.9,603.6 400.5,602.0 401.6,601.4 C402.7,600.8 404.6,595.3 405.8,596.4 C407.1,597.5 408.1,601.4 409.1,608.0 C410.1,614.6 410.9,627.6 411.6,636.3 C412.3,645.0 412.5,646.1 413.3,660.0 C414.1,673.9 415.5,704.9 416.5,719.7 C417.5,734.5 418.4,748.7 419.5,748.7 C420.6,748.7 422.0,732.9 423.1,719.7 C424.2,706.6 425.4,685.1 426.4,669.8 C427.4,654.5 428.3,640.5 429.0,628.0 C429.7,615.5 430.0,605.9 430.7,594.8 C431.4,583.7 432.2,570.6 433.2,561.5 C434.2,552.4 435.5,545.4 436.5,539.9 C437.5,534.4 438.2,528.8 439.0,528.3 C439.8,527.8 440.7,529.7 441.5,536.6 C442.3,543.5 443.2,560.4 444.0,569.8 C444.8,579.2 445.4,587.0 446.5,593.1 C447.6,599.2 449.5,602.0 450.6,606.4 C451.7,610.8 452.2,610.5 453.1,619.7 C454.1,628.9 455.2,646.2 456.3,661.5 C457.4,676.8 458.6,696.3 459.7,711.4 C460.8,726.5 461.6,750.6 462.7,752.0 C463.8,753.4 465.0,733.4 466.3,719.7 C467.6,706.0 469.2,685.1 470.5,669.8 C471.8,654.5 473.3,640.6 474.2,628.0 C475.1,615.4 475.2,602.1 476.0,594.0 C476.8,585.9 478.1,581.3 479.0,579.5 C479.9,577.7 480.6,582.6 481.4,583.1 C482.2,583.6 483.0,578.8 483.8,582.3 C484.6,585.8 485.3,597.7 486.2,604.0 C487.1,610.3 488.5,615.4 489.4,620.0 C490.3,624.6 490.5,626.1 491.6,631.6 C492.7,637.1 494.6,644.1 495.8,653.2 C497.1,662.3 498.0,673.9 499.1,686.4 C500.2,698.9 501.4,717.2 502.4,728.0 C503.4,738.8 503.9,749.8 504.9,751.2 C505.9,752.6 506.9,745.7 508.2,736.3 C509.4,726.9 511.1,707.3 512.4,694.8 C513.6,682.3 514.6,672.6 515.7,661.5 C516.8,650.4 518.0,638.7 518.8,628.3 C519.6,617.9 520.0,607.5 520.7,599.2 C521.4,590.9 522.3,583.2 523.1,578.3 C523.9,573.3 524.7,569.5 525.5,569.5 C526.3,569.5 527.1,573.3 527.9,578.3 C528.7,583.2 529.5,591.9 530.3,599.2 C531.1,606.5 531.9,615.9 532.6,622.0 C533.3,628.1 533.6,631.4 534.5,636.0 C535.4,640.6 537.0,642.9 538.1,649.9 C539.2,656.9 540.3,667.9 541.4,678.1 C542.5,688.4 543.5,699.4 544.8,711.4 C546.0,723.4 547.5,747.6 548.9,750.4 C550.3,753.2 551.9,738.7 553.1,728.0 C554.4,717.3 555.2,701.1 556.4,686.4 C557.6,671.7 559.0,654.5 560.3,640.0 C561.5,625.5 562.8,608.7 563.9,599.2 C565.0,589.7 566.1,586.3 567.1,583.1 C568.1,579.9 569.1,578.5 569.9,579.9 C570.7,581.2 571.2,584.5 572.0,591.2 C572.8,597.9 573.7,612.4 574.4,620.0 C575.1,627.6 575.1,632.2 576.3,636.6 C577.4,641.0 579.9,639.7 581.3,646.6 C582.7,653.5 583.4,665.9 584.6,678.1 C585.9,690.3 587.5,708.6 588.8,719.7 C590.0,730.8 590.9,744.6 592.1,744.6 C593.3,744.6 594.6,730.8 595.8,719.7 C597.0,708.6 598.0,692.0 599.1,678.1 C600.2,664.2 601.4,648.4 602.5,636.6 C603.6,624.8 604.9,616.1 606.0,607.2 C607.1,598.3 608.1,590.6 609.2,583.1 C610.3,575.6 611.5,565.2 612.4,562.3 C613.3,559.4 613.9,567.6 614.8,565.5 C615.7,563.4 616.9,550.0 618.0,549.5 C619.1,549.0 620.3,558.0 621.3,562.3 C622.2,566.6 622.9,568.0 623.7,575.1 C624.5,582.2 625.5,592.0 626.1,605.0 C626.8,618.0 627.0,639.6 627.6,653.2 C628.2,666.8 629.1,674.8 629.9,686.4 C630.7,698.0 631.6,712.5 632.4,723.0 C633.2,733.5 633.8,746.8 634.9,749.6 C636.0,752.4 637.5,744.6 639.0,739.6 C640.5,734.6 642.6,728.6 644.0,719.7 C645.4,710.8 646.0,697.5 647.3,686.4 C648.5,675.3 650.1,662.9 651.5,653.2 C652.9,643.5 654.2,633.1 655.6,628.3 C657.0,623.5 658.5,623.4 659.8,624.2 C661.0,625.0 662.0,631.2 663.1,633.3 C664.2,635.4 665.3,631.9 666.4,636.6 C667.5,641.3 668.6,651.8 669.7,661.5 C670.8,671.2 672.0,683.7 673.1,694.8 C674.2,705.9 675.3,719.1 676.4,728.0 C677.5,736.9 678.5,747.9 679.7,747.9 C681.0,747.9 682.5,735.5 683.9,728.0 C685.3,720.5 686.6,712.7 688.0,703.0 C689.4,693.3 690.7,679.3 692.2,669.8 C693.7,660.2 695.6,648.5 697.1,645.7 C698.6,642.9 700.0,647.8 701.3,653.2 C702.5,658.6 703.5,673.4 704.6,678.1 C705.7,682.8 706.9,681.2 707.9,681.5 C708.9,681.8 709.6,677.8 710.5,680.0 C711.4,682.2 712.3,688.2 713.3,694.8 C714.3,701.4 715.4,711.7 716.6,719.7 C717.9,727.7 719.4,739.6 720.8,742.9 C722.2,746.2 723.6,744.9 724.9,739.6 C726.1,734.4 727.0,723.0 728.3,711.4 C729.5,699.8 731.2,682.3 732.4,669.8 C733.6,657.3 734.7,647.0 735.7,636.6 C736.8,626.2 737.8,615.3 738.7,607.2 C739.6,599.1 740.4,592.7 741.1,588.0 C741.8,583.3 742.4,579.1 743.1,579.1 C743.8,579.1 744.4,584.6 745.1,588.0 C745.8,591.4 746.7,594.7 747.5,599.2 C748.3,603.7 749.1,609.0 749.9,615.2 C750.7,621.4 751.2,628.9 752.3,636.6 C753.4,644.3 755.2,651.8 756.5,661.5 C757.8,671.2 758.7,683.7 759.8,694.8 C760.9,705.9 762.0,719.8 763.1,728.0 C764.2,736.2 765.4,743.8 766.5,743.8 C767.6,743.8 768.7,737.6 769.8,728.0 C770.9,718.4 772.0,700.2 773.1,686.4 C774.2,672.5 775.5,657.6 776.4,644.9 C777.3,632.2 777.8,617.2 778.7,610.4 C779.6,603.6 780.8,607.2 781.9,604.0 C783.0,600.8 784.2,596.3 785.1,591.2 C786.0,586.1 786.7,577.0 787.5,573.5 C788.3,570.0 789.2,572.8 789.9,570.3 C790.6,567.8 790.7,558.8 791.5,558.3 C792.3,557.8 793.8,564.3 794.7,567.1 C795.6,569.9 796.3,568.4 797.1,575.1 C797.9,581.8 798.9,595.6 799.6,607.2 C800.3,618.8 800.6,633.1 801.3,644.9 C802.0,656.7 802.8,665.6 803.8,678.1 C804.8,690.6 806.1,707.7 807.2,719.7 C808.3,731.8 809.3,749.0 810.5,750.4 C811.7,751.8 813.1,741.4 814.6,728.0 C816.1,714.6 818.3,685.3 819.6,669.8 C820.9,654.3 821.6,644.1 822.4,635.0 C823.2,625.9 823.5,619.4 824.2,615.2 C824.9,611.0 825.8,609.3 826.7,609.6 C827.6,609.9 828.8,613.1 829.6,616.8 C830.4,620.5 830.7,628.3 831.6,631.6 C832.5,634.9 833.8,636.0 835.0,636.6 C836.2,637.2 837.7,632.8 839.1,635.0 C840.5,637.2 842.0,641.3 843.3,649.9 C844.5,658.5 845.5,674.8 846.6,686.4 C847.7,698.0 848.8,710.0 849.9,719.7 C851.0,729.4 852.0,743.2 853.2,744.6 C854.5,746.0 856.1,737.7 857.4,728.0 C858.6,718.3 859.6,700.2 860.7,686.4 C861.8,672.5 863.2,658.6 864.0,644.9 C864.8,631.2 865.0,612.7 865.7,604.0 C866.4,595.3 867.3,594.4 868.1,592.8 C868.9,591.2 869.7,595.2 870.5,594.4 C871.3,593.6 872.2,588.0 872.9,588.0 C873.6,588.0 874.0,590.7 874.5,594.4 C875.0,598.1 875.6,606.1 876.1,610.4 C876.6,614.7 876.7,615.6 877.3,620.0 C877.9,624.4 878.7,631.6 879.8,636.6 C880.9,641.6 882.8,644.4 884.0,649.9 C885.2,655.4 886.2,660.9 887.3,669.8 C888.4,678.6 889.5,691.9 890.6,703.0 C891.7,714.1 893.1,728.8 893.9,736.3 C894.7,743.8 894.8,747.9 895.6,747.9 C896.4,747.9 897.8,745.1 898.9,736.3 C900.0,727.4 901.1,710.0 902.2,694.8 C903.3,679.6 904.6,659.0 905.5,644.9 C906.4,630.8 906.6,617.5 907.3,610.4 C908.0,603.3 908.8,604.3 909.7,602.4 C910.6,600.5 911.8,601.2 912.9,599.2 C914.0,597.2 915.6,589.6 916.6,590.4 C917.6,591.2 917.9,599.9 918.6,604.0 C919.3,608.1 920.1,612.0 921.0,615.2 C921.9,618.4 923.1,622.1 924.2,623.2 C925.3,624.3 926.4,620.8 927.4,621.6 C928.4,622.5 929.1,620.3 930.0,628.3 C930.9,636.3 931.5,654.6 932.5,669.8 C933.5,685.0 934.6,706.1 935.8,719.7 C937.0,733.3 938.4,749.8 939.6,751.2 C940.9,752.6 942.1,738.8 943.3,728.0 C944.5,717.2 945.5,700.2 946.6,686.4 C947.7,672.5 948.8,654.7 949.9,644.9 C951.0,635.1 952.2,630.0 953.3,627.5 C954.4,625.0 955.5,630.1 956.6,630.0 C957.7,629.9 958.8,624.7 959.9,626.6 C961.0,628.5 962.2,637.4 963.2,641.6 C964.2,645.8 964.7,649.4 965.7,651.6 C966.7,653.8 967.9,653.2 969.0,654.9 C970.1,656.5 971.4,657.6 972.4,661.5 C973.4,665.4 973.9,669.8 974.9,678.1 C975.9,686.4 977.2,701.7 978.2,711.4 C979.2,721.1 979.9,730.5 980.7,736.3 C981.5,742.1 982.2,747.6 983.2,746.2 C984.2,744.8 985.4,736.6 986.5,728.0 C987.6,719.4 988.7,707.3 989.8,694.8 C990.9,682.3 992.0,664.3 993.1,653.2 C994.2,642.1 995.6,634.4 996.4,628.3 C997.2,622.2 997.3,619.9 998.1,616.8 C998.9,613.7 1000.4,609.6 1001.3,609.6 C1002.2,609.6 1002.9,613.4 1003.7,616.8 C1004.5,620.2 1005.1,623.4 1006.1,630.0 C1007.1,636.6 1008.4,651.5 1009.7,656.5 C1011.0,661.5 1012.6,656.3 1013.9,659.9 C1015.1,663.5 1016.1,669.5 1017.2,678.1 C1018.3,686.7 1019.4,700.3 1020.5,711.4 C1021.6,722.5 1023.0,738.0 1023.9,744.6 C1024.8,751.2 1025.2,752.5 1026.0,751.2 C1026.8,749.9 1027.6,743.7 1028.4,737.0 C1029.2,730.3 1029.7,722.1 1030.7,711.0 C1031.7,699.9 1033.1,685.4 1034.2,670.6 C1035.3,655.8 1036.6,633.6 1037.4,622.0 C1038.2,610.4 1038.7,605.5 1039.2,601.0 C1039.8,596.5 1040.5,596.0 1040.7,595.0" stroke="#EA5414"/>
</g>
<g font-family="Liberation Sans, Arial, sans-serif" font-size="29" fill="#222">
<text transform="translate(304.5,796.3) scale(1,1.03)" text-anchor="middle">1950</text>
<text transform="translate(521.2,796.3) scale(1,1.03)" text-anchor="middle">1955</text>
<text transform="translate(737.9,796.3) scale(1,1.03)" text-anchor="middle">1960</text>
<text transform="translate(954.5,796.3) scale(1,1.03)" text-anchor="middle">1965</text>
<text transform="translate(122.5,769.5) scale(1,1.03)" text-anchor="end">0</text>
<text transform="translate(122.5,682.3) scale(1,1.03)" text-anchor="end">0.0005</text>
<text transform="translate(122.5,595.1) scale(1,1.03)" text-anchor="end">0.001</text>
<text transform="translate(122.5,507.8) scale(1,1.03)" text-anchor="end">0.0015</text>
</g>
<text x="585.9" y="835.2" text-anchor="middle" font-family="Liberation Sans, Arial, sans-serif" font-size="31.7" fill="#222">Time (years)</text>
<text transform="translate(23.2,626.4) rotate(-90)" text-anchor="middle" font-family="Liberation Sans, Arial, sans-serif" font-size="31.7" fill="#222">Proportion</text>
<text x="585.9" y="485.8" text-anchor="middle" font-family="Liberation Sans, Arial, sans-serif" font-size="31.4" font-weight="bold" fill="#000">Infectious Time Series</text>
<rect x="910.4" y="510.1" width="117.2" height="71.1" fill="#fff" stroke="#959595" stroke-width="1.4"/>
<path d="M914.9,528.3H944.1" stroke="#0072C3" stroke-width="4"/>
<path d="M914.9,562.3H944.1" stroke="#EA5414" stroke-width="4"/>
<g font-family="Liberation Sans, Arial, sans-serif" font-size="26" fill="#000">
<text transform="translate(947.3,539.3) scale(1,1.03)">SINDy</text>
<text transform="translate(947.3,573.3) scale(1,1.03)">Data</text>
</g>
<path d="M1084.0,46.30H1641.0 M1084.0,100.17H1641.0 M1084.0,154.04H1641.0 M1084.0,207.91H1641.0 M1084.0,261.78H1641.0 M1084.0,315.65H1641.0 M1084.0,369.52H1641.0 M1084.0,423.39H1641.0 M1084.0,477.26H1641.0 M1084.0,531.13H1641.0 M1084.0,585.00H1641.0 M1084.0,638.87H1641.0 M1084.0,692.74H1641.0 M1084.0,746.61H1641.0 M1085.00,45.2V747.7 M1263.30,45.2V747.7 M1447.90,45.2V747.7 M1640.00,45.2V747.7" stroke="#303030" stroke-width="2.1" fill="none"/>
</svg>
<table class="coef">
<colgroup><col style="width:178.30px"><col style="width:184.60px"><col style="width:192.10px"></colgroup>
<tr><td><span class="c"><span class="m" style="transform:scaleX(1.07)">Term</span></span></td><td><span class="c"><span class="m" style="transform:scaleX(1.14)"><i>S</i> Eq.</span></span></td><td><span class="c"><span class="m" style="transform:scaleX(1.13)"><i>I</i> Eq.</span></span></td></tr>
<tr><td><span class="c">1</span></td><td><span class="c">0</span></td><td><span class="c">-0.002</span></td></tr>
<tr><td><span class="c"><span class="m" style="transform:scaleX(1.20)"><i>S</i></span></span></td><td><span class="c">1.011</span></td><td><span class="c">0.081</span></td></tr>
<tr><td><span class="c"><span class="m" style="transform:scaleX(1.20)"><i>I</i></span></span></td><td><span class="c">1.043</span></td><td><span class="c">0.953</span></td></tr>
<tr><td><span class="c"><span class="m" style="transform:scaleX(1.26)"><i>S</i><sup>2</sup></span></span></td><td><span class="c">-0.037</span></td><td><span class="c">-0.776</span></td></tr>
<tr><td><span class="c"><span class="m" style="transform:scaleX(1.23)"><i>SI</i></span></span></td><td><span class="c">-26.601</span></td><td><span class="c">0</span></td></tr>
<tr><td><span class="c"><span class="m" style="transform:scaleX(1.22)"><i>I</i><sup>2</sup></span></span></td><td><span class="c">0</span></td><td><span class="c">0</span></td></tr>
<tr><td><span class="c"><span class="m" style="transform:scaleX(1.16)"><i>&beta;</i>(<i>t</i>)</span></span></td><td><span class="c">0</span></td><td><span class="c">0.001</span></td></tr>
<tr><td><span class="c"><span class="m" style="transform:scaleX(1.18)"><i>&beta;</i>(<i>t</i>)<i>S</i></span></span></td><td><span class="c">-0.024</span></td><td><span class="c">0.001</span></td></tr>
<tr><td><span class="c"><span class="m" style="transform:scaleX(1.16)"><i>&beta;</i>(<i>t</i>)<i>I</i></span></span></td><td><span class="c">0.215</span></td><td><span class="c">-1.163</span></td></tr>
<tr><td><span class="c"><span class="m" style="transform:scaleX(1.20)"><i>&beta;</i>(<i>t</i>)<i>S</i><sup>2</sup></span></span></td><td><span class="c">0.267</span></td><td><span class="c">0</span></td></tr>
<tr><td><span class="c"><span class="m" style="transform:scaleX(1.19)"><i>&beta;</i>(<i>t</i>)<i>SI</i></span></span></td><td><span class="c">-3.749</span></td><td><span class="c">19.24</span></td></tr>
<tr><td><span class="c"><span class="m" style="transform:scaleX(1.22)"><i>&beta;</i>(<i>t</i>)<i>I</i><sup>2</sup></span></span></td><td><span class="c">0</span></td><td><span class="c">114.765</span></td></tr>
</table>
</body></html>
